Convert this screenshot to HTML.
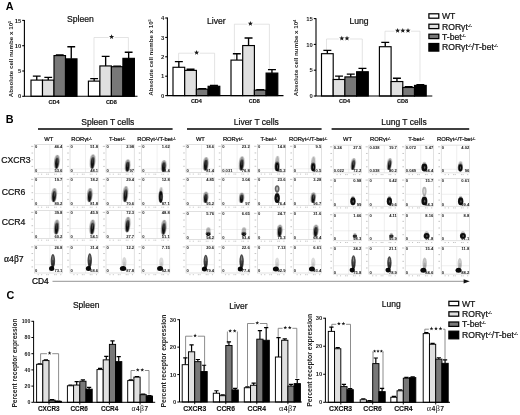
<!DOCTYPE html>
<html><head><meta charset="utf-8"><title>Figure</title>
<style>html,body{margin:0;padding:0;background:#fff;}body{width:520px;height:415px;overflow:hidden;font-family:"Liberation Sans",sans-serif;}svg{display:block;filter:blur(0.35px);}</style></head>
<body>
<svg width="520" height="415" viewBox="0 0 520 415" font-family="'Liberation Sans', sans-serif">
<defs><filter id="bl" x="-50%" y="-50%" width="200%" height="200%"><feGaussianBlur stdDeviation="0.7"/></filter></defs>
<rect width="520" height="415" fill="#fff"/>
<text x="5.80" y="10.20" font-size="10.8" text-anchor="start" font-weight="bold" fill="#000" >A</text>
<text x="5.80" y="122.60" font-size="10.8" text-anchor="start" font-weight="bold" fill="#000" >B</text>
<text x="6.40" y="299.20" font-size="10.8" text-anchor="start" font-weight="bold" fill="#000" >C</text>
<path d="M94.00 79.50V37.50H108.60M114.60 37.50H128.40V52.00" stroke="#d8d8d8" stroke-width="0.7" fill="none"/>
<polygon points="111.60,34.20 112.27,35.98 114.17,36.07 112.68,37.25 113.19,39.08 111.60,38.03 110.01,39.08 110.52,37.25 109.03,36.07 110.93,35.98" fill="#1a1a1a"/>
<path d="M36.75 80.11V76.06M32.84 76.06H40.66" stroke="#000" stroke-width="1.35" fill="none"/>
<rect x="31.00" y="80.11" width="11.50" height="16.19" fill="#ffffff" stroke="#000" stroke-width="1.15"/>
<path d="M48.25 80.11V77.32M44.34 77.32H52.16" stroke="#000" stroke-width="1.35" fill="none"/>
<rect x="42.50" y="80.11" width="11.50" height="16.19" fill="#e0e0e0" stroke="#000" stroke-width="1.15"/>
<path d="M59.75 55.57V54.81M55.84 54.81H63.66" stroke="#000" stroke-width="1.35" fill="none"/>
<rect x="54.00" y="55.57" width="11.50" height="40.73" fill="#787878" stroke="#000" stroke-width="1.15"/>
<path d="M71.25 58.86V46.71M67.34 46.71H75.16" stroke="#000" stroke-width="1.35" fill="none"/>
<rect x="65.50" y="58.86" width="11.50" height="37.44" fill="#000000" stroke="#000" stroke-width="1.15"/>
<path d="M94.15 81.12V78.59M90.24 78.59H98.06" stroke="#000" stroke-width="1.35" fill="none"/>
<rect x="88.40" y="81.12" width="11.50" height="15.18" fill="#ffffff" stroke="#000" stroke-width="1.15"/>
<path d="M105.65 65.94V56.33M101.74 56.33H109.56" stroke="#000" stroke-width="1.35" fill="none"/>
<rect x="99.90" y="65.94" width="11.50" height="30.36" fill="#e0e0e0" stroke="#000" stroke-width="1.15"/>
<path d="M117.15 66.70V66.19M113.24 66.19H121.06" stroke="#000" stroke-width="1.35" fill="none"/>
<rect x="111.40" y="66.70" width="11.50" height="29.60" fill="#787878" stroke="#000" stroke-width="1.15"/>
<path d="M128.65 58.35V52.28M124.74 52.28H132.56" stroke="#000" stroke-width="1.35" fill="none"/>
<rect x="122.90" y="58.35" width="11.50" height="37.95" fill="#000000" stroke="#000" stroke-width="1.15"/>
<path d="M24.40 20.00V96.30H137.50" stroke="#000" stroke-width="1.1" fill="none"/>
<path d="M22.20 96.30H24.40" stroke="#000" stroke-width="1.1"/>
<text x="21.20" y="98.42" font-size="5.9" text-anchor="end" font-weight="bold" fill="#222" >0</text>
<path d="M22.20 71.00H24.40" stroke="#000" stroke-width="1.1"/>
<text x="21.20" y="73.12" font-size="5.9" text-anchor="end" font-weight="bold" fill="#222" >5</text>
<path d="M22.20 45.70H24.40" stroke="#000" stroke-width="1.1"/>
<text x="21.20" y="47.82" font-size="5.9" text-anchor="end" font-weight="bold" fill="#222" >10</text>
<path d="M22.20 20.40H24.40" stroke="#000" stroke-width="1.1"/>
<text x="21.20" y="22.52" font-size="5.9" text-anchor="end" font-weight="bold" fill="#222" >15</text>
<text x="80.50" y="22.20" font-size="8.6" text-anchor="middle" font-weight="normal" fill="#111" stroke="#111" stroke-width="0.22">Spleen</text>
<text transform="translate(13.20 58.95) rotate(-90)" font-size="6.2" text-anchor="middle" font-weight="bold" fill="#222">Absolute cell numbe x 10<tspan font-size="4.0" dy="-2">5</tspan></text>
<text x="54.00" y="103.50" font-size="5.5" text-anchor="middle" font-weight="bold" fill="#111" stroke="#111" stroke-width="0.15">CD4</text>
<text x="111.40" y="103.50" font-size="5.5" text-anchor="middle" font-weight="bold" fill="#111" stroke="#111" stroke-width="0.15">CD8</text>
<path d="M178.60 66.50V53.20H193.60M199.60 53.20H214.60V85.50" stroke="#d8d8d8" stroke-width="0.7" fill="none"/>
<polygon points="196.60,49.90 197.27,51.68 199.17,51.77 197.68,52.95 198.19,54.78 196.60,53.73 195.01,54.78 195.52,52.95 194.03,51.77 195.93,51.68" fill="#1a1a1a"/>
<path d="M234.40 59.50V24.20H247.40M253.40 24.20H269.40V69.50" stroke="#d8d8d8" stroke-width="0.7" fill="none"/>
<polygon points="250.40,20.90 251.07,22.68 252.97,22.77 251.48,23.95 251.99,25.78 250.40,24.73 248.81,25.78 249.32,23.95 247.83,22.77 249.73,22.68" fill="#1a1a1a"/>
<path d="M178.85 67.28V61.65M174.87 61.65H182.83" stroke="#000" stroke-width="1.35" fill="none"/>
<rect x="173.00" y="67.28" width="11.70" height="28.32" fill="#ffffff" stroke="#000" stroke-width="1.15"/>
<path d="M190.55 70.38V69.22M186.57 69.22H194.53" stroke="#000" stroke-width="1.35" fill="none"/>
<rect x="184.70" y="70.38" width="11.70" height="25.22" fill="#e0e0e0" stroke="#000" stroke-width="1.15"/>
<path d="M202.25 89.20V88.62M198.27 88.62H206.23" stroke="#000" stroke-width="1.35" fill="none"/>
<rect x="196.40" y="89.20" width="11.70" height="6.40" fill="#787878" stroke="#000" stroke-width="1.15"/>
<path d="M213.95 86.29V85.51M209.97 85.51H217.93" stroke="#000" stroke-width="1.35" fill="none"/>
<rect x="208.10" y="86.29" width="11.70" height="9.31" fill="#000000" stroke="#000" stroke-width="1.15"/>
<path d="M236.85 60.10V53.70M232.87 53.70H240.83" stroke="#000" stroke-width="1.35" fill="none"/>
<rect x="231.00" y="60.10" width="11.70" height="35.50" fill="#ffffff" stroke="#000" stroke-width="1.15"/>
<path d="M248.55 45.55V37.98M244.57 37.98H252.53" stroke="#000" stroke-width="1.35" fill="none"/>
<rect x="242.70" y="45.55" width="11.70" height="50.05" fill="#e0e0e0" stroke="#000" stroke-width="1.15"/>
<path d="M260.25 90.17V89.59M256.27 89.59H264.23" stroke="#000" stroke-width="1.35" fill="none"/>
<rect x="254.40" y="90.17" width="11.70" height="5.43" fill="#787878" stroke="#000" stroke-width="1.15"/>
<path d="M271.95 73.10V69.60M267.97 69.60H275.93" stroke="#000" stroke-width="1.35" fill="none"/>
<rect x="266.10" y="73.10" width="11.70" height="22.50" fill="#000000" stroke="#000" stroke-width="1.15"/>
<path d="M167.40 17.60V95.60H283.50" stroke="#000" stroke-width="1.1" fill="none"/>
<path d="M165.20 95.60H167.40" stroke="#000" stroke-width="1.1"/>
<text x="164.20" y="97.72" font-size="5.9" text-anchor="end" font-weight="bold" fill="#222" >0</text>
<path d="M165.20 76.20H167.40" stroke="#000" stroke-width="1.1"/>
<text x="164.20" y="78.32" font-size="5.9" text-anchor="end" font-weight="bold" fill="#222" >1</text>
<path d="M165.20 56.80H167.40" stroke="#000" stroke-width="1.1"/>
<text x="164.20" y="58.92" font-size="5.9" text-anchor="end" font-weight="bold" fill="#222" >2</text>
<path d="M165.20 37.40H167.40" stroke="#000" stroke-width="1.1"/>
<text x="164.20" y="39.52" font-size="5.9" text-anchor="end" font-weight="bold" fill="#222" >3</text>
<path d="M165.20 18.00H167.40" stroke="#000" stroke-width="1.1"/>
<text x="164.20" y="20.12" font-size="5.9" text-anchor="end" font-weight="bold" fill="#222" >4</text>
<text x="216.40" y="24.00" font-size="8.6" text-anchor="middle" font-weight="normal" fill="#111" stroke="#111" stroke-width="0.22">Liver</text>
<text transform="translate(152.60 57.40) rotate(-90)" font-size="6.2" text-anchor="middle" font-weight="bold" fill="#222">Absolute cell numbe x 10<tspan font-size="4.0" dy="-2">5</tspan></text>
<text x="196.40" y="102.80" font-size="5.5" text-anchor="middle" font-weight="bold" fill="#111" stroke="#111" stroke-width="0.15">CD4</text>
<text x="254.30" y="102.80" font-size="5.5" text-anchor="middle" font-weight="bold" fill="#111" stroke="#111" stroke-width="0.15">CD8</text>
<path d="M326.50 51.50V39.00H338.80M350.00 39.00H362.30V68.50" stroke="#d8d8d8" stroke-width="0.7" fill="none"/>
<polygon points="341.80,35.70 342.47,37.48 344.37,37.57 342.88,38.75 343.39,40.58 341.80,39.53 340.21,40.58 340.72,38.75 339.23,37.57 341.13,37.48" fill="#1a1a1a"/>
<polygon points="347.00,35.70 347.67,37.48 349.57,37.57 348.08,38.75 348.59,40.58 347.00,39.53 345.41,40.58 345.92,38.75 344.43,37.57 346.33,37.48" fill="#1a1a1a"/>
<path d="M385.00 45.00V31.20H394.60M411.00 31.20H420.00V81.50" stroke="#d8d8d8" stroke-width="0.7" fill="none"/>
<polygon points="397.60,27.90 398.27,29.68 400.17,29.77 398.68,30.95 399.19,32.78 397.60,31.73 396.01,32.78 396.52,30.95 395.03,29.77 396.93,29.68" fill="#1a1a1a"/>
<polygon points="402.80,27.90 403.47,29.68 405.37,29.77 403.88,30.95 404.39,32.78 402.80,31.73 401.21,32.78 401.72,30.95 400.23,29.77 402.13,29.68" fill="#1a1a1a"/>
<polygon points="408.00,27.90 408.67,29.68 410.57,29.77 409.08,30.95 409.59,32.78 408.00,31.73 406.41,32.78 406.92,30.95 405.43,29.77 407.33,29.68" fill="#1a1a1a"/>
<path d="M327.35 53.69V50.33M323.37 50.33H331.33" stroke="#000" stroke-width="1.35" fill="none"/>
<rect x="321.50" y="53.69" width="11.70" height="42.31" fill="#ffffff" stroke="#000" stroke-width="1.15"/>
<path d="M339.05 79.49V76.13M335.07 76.13H343.03" stroke="#000" stroke-width="1.35" fill="none"/>
<rect x="333.20" y="79.49" width="11.70" height="16.51" fill="#e0e0e0" stroke="#000" stroke-width="1.15"/>
<path d="M350.75 76.91V74.07M346.77 74.07H354.73" stroke="#000" stroke-width="1.35" fill="none"/>
<rect x="344.90" y="76.91" width="11.70" height="19.09" fill="#787878" stroke="#000" stroke-width="1.15"/>
<path d="M362.45 71.75V68.39M358.47 68.39H366.43" stroke="#000" stroke-width="1.35" fill="none"/>
<rect x="356.60" y="71.75" width="11.70" height="24.25" fill="#000000" stroke="#000" stroke-width="1.15"/>
<path d="M385.25 46.72V42.34M381.27 42.34H389.23" stroke="#000" stroke-width="1.35" fill="none"/>
<rect x="379.40" y="46.72" width="11.70" height="49.28" fill="#ffffff" stroke="#000" stroke-width="1.15"/>
<path d="M396.95 81.55V78.20M392.97 78.20H400.93" stroke="#000" stroke-width="1.35" fill="none"/>
<rect x="391.10" y="81.55" width="11.70" height="14.45" fill="#e0e0e0" stroke="#000" stroke-width="1.15"/>
<path d="M408.65 87.49V86.71M404.67 86.71H412.63" stroke="#000" stroke-width="1.35" fill="none"/>
<rect x="402.80" y="87.49" width="11.70" height="8.51" fill="#787878" stroke="#000" stroke-width="1.15"/>
<path d="M420.35 85.42V84.65M416.37 84.65H424.33" stroke="#000" stroke-width="1.35" fill="none"/>
<rect x="414.50" y="85.42" width="11.70" height="10.58" fill="#000000" stroke="#000" stroke-width="1.15"/>
<path d="M316.00 18.20V96.00H432.30" stroke="#000" stroke-width="1.1" fill="none"/>
<path d="M313.80 96.00H316.00" stroke="#000" stroke-width="1.1"/>
<text x="312.80" y="98.12" font-size="5.9" text-anchor="end" font-weight="bold" fill="#222" >0</text>
<path d="M313.80 70.20H316.00" stroke="#000" stroke-width="1.1"/>
<text x="312.80" y="72.32" font-size="5.9" text-anchor="end" font-weight="bold" fill="#222" >5</text>
<path d="M313.80 44.40H316.00" stroke="#000" stroke-width="1.1"/>
<text x="312.80" y="46.52" font-size="5.9" text-anchor="end" font-weight="bold" fill="#222" >10</text>
<path d="M313.80 18.60H316.00" stroke="#000" stroke-width="1.1"/>
<text x="312.80" y="20.72" font-size="5.9" text-anchor="end" font-weight="bold" fill="#222" >15</text>
<text x="359.00" y="24.00" font-size="8.6" text-anchor="middle" font-weight="normal" fill="#111" stroke="#111" stroke-width="0.22">Lung</text>
<text transform="translate(297.60 57.90) rotate(-90)" font-size="6.2" text-anchor="middle" font-weight="bold" fill="#222">Absolute cell numbe x 10<tspan font-size="4.0" dy="-2">4</tspan></text>
<text x="344.50" y="103.20" font-size="5.5" text-anchor="middle" font-weight="bold" fill="#111" stroke="#111" stroke-width="0.15">CD4</text>
<text x="402.50" y="103.20" font-size="5.5" text-anchor="middle" font-weight="bold" fill="#111" stroke="#111" stroke-width="0.15">CD8</text>
<rect x="428.90" y="13.80" width="9.9" height="4.4" fill="#ffffff" stroke="#000" stroke-width="1.25"/>
<text x="442.00" y="19.10" font-size="8.6" text-anchor="start" font-weight="normal" fill="#111" stroke="#111" stroke-width="0.22">WT</text>
<rect x="428.90" y="24.20" width="9.9" height="4.4" fill="#e0e0e0" stroke="#000" stroke-width="1.25"/>
<text x="442.00" y="29.50" font-size="8.6" text-anchor="start" font-weight="normal" fill="#111" stroke="#111" stroke-width="0.22">ROR&#947;t<tspan font-size="4.3" dy="-3.0">-/-</tspan><tspan dy="3.0" font-size="4.3">&#8203;</tspan></text>
<rect x="428.90" y="34.20" width="9.9" height="4.4" fill="#787878" stroke="#000" stroke-width="1.25"/>
<text x="442.00" y="39.50" font-size="8.6" text-anchor="start" font-weight="normal" fill="#111" stroke="#111" stroke-width="0.22">T-bet<tspan font-size="4.3" dy="-3.0">-/-</tspan><tspan dy="3.0" font-size="4.3">&#8203;</tspan></text>
<rect x="428.90" y="43.50" width="9.9" height="7.6" fill="#000000" stroke="#000" stroke-width="1.25"/>
<text x="442.00" y="50.40" font-size="8.6" text-anchor="start" font-weight="normal" fill="#111" stroke="#111" stroke-width="0.22">ROR&#947;t<tspan font-size="4.3" dy="-3.0">-/-</tspan><tspan dy="3.0" font-size="4.3">&#8203;</tspan>/T-bet<tspan font-size="4.3" dy="-3.0">-/-</tspan><tspan dy="3.0" font-size="4.3">&#8203;</tspan></text>
<path d="M38 129.0H172.6" stroke="#000" stroke-width="1.3"/>
<path d="M187.0 129.0H321.6" stroke="#000" stroke-width="1.3"/>
<path d="M331.6 129.0H469.2" stroke="#000" stroke-width="1.3"/>
<text x="107.80" y="125.20" font-size="8.5" text-anchor="middle" font-weight="normal" fill="#111" stroke="#111" stroke-width="0.22">Spleen T cells</text>
<text x="256.30" y="125.20" font-size="8.5" text-anchor="middle" font-weight="normal" fill="#111" stroke="#111" stroke-width="0.22">Liver T cells</text>
<text x="404.00" y="125.40" font-size="8.5" text-anchor="middle" font-weight="normal" fill="#111" stroke="#111" stroke-width="0.22">Lung T cells</text>
<text x="48.70" y="141.20" font-size="5.8" text-anchor="middle" font-weight="normal" fill="#111" stroke="#111" stroke-width="0.22">WT</text>
<text x="81.50" y="141.20" font-size="5.8" text-anchor="middle" font-weight="normal" fill="#111" stroke="#111" stroke-width="0.22">ROR&#947;t<tspan font-size="3.2" dy="-1.7">-/-</tspan><tspan dy="1.7" font-size="3.2">&#8203;</tspan></text>
<text x="117.10" y="141.20" font-size="5.8" text-anchor="middle" font-weight="normal" fill="#111" stroke="#111" stroke-width="0.22">T-bet<tspan font-size="3.2" dy="-1.7">-/-</tspan><tspan dy="1.7" font-size="3.2">&#8203;</tspan></text>
<text x="156.50" y="141.20" font-size="5.8" text-anchor="middle" font-weight="normal" fill="#111" stroke="#111" stroke-width="0.22">ROR&#947;t<tspan font-size="3.2" dy="-1.7">-/-</tspan><tspan dy="1.7" font-size="3.2">&#8203;</tspan>/T-bet<tspan font-size="3.2" dy="-1.7">-/-</tspan><tspan dy="1.7" font-size="3.2">&#8203;</tspan></text>
<text x="200.40" y="141.20" font-size="5.8" text-anchor="middle" font-weight="normal" fill="#111" stroke="#111" stroke-width="0.22">WT</text>
<text x="233.10" y="141.20" font-size="5.8" text-anchor="middle" font-weight="normal" fill="#111" stroke="#111" stroke-width="0.22">ROR&#947;t<tspan font-size="3.2" dy="-1.7">-/-</tspan><tspan dy="1.7" font-size="3.2">&#8203;</tspan></text>
<text x="268.50" y="141.20" font-size="5.8" text-anchor="middle" font-weight="normal" fill="#111" stroke="#111" stroke-width="0.22">T-bet<tspan font-size="3.2" dy="-1.7">-/-</tspan><tspan dy="1.7" font-size="3.2">&#8203;</tspan></text>
<text x="308.10" y="141.20" font-size="5.8" text-anchor="middle" font-weight="normal" fill="#111" stroke="#111" stroke-width="0.22">ROR&#947;t<tspan font-size="3.2" dy="-1.7">-/-</tspan><tspan dy="1.7" font-size="3.2">&#8203;</tspan>/T-bet<tspan font-size="3.2" dy="-1.7">-/-</tspan><tspan dy="1.7" font-size="3.2">&#8203;</tspan></text>
<text x="347.60" y="141.20" font-size="5.8" text-anchor="middle" font-weight="normal" fill="#111" stroke="#111" stroke-width="0.22">WT</text>
<text x="380.30" y="141.20" font-size="5.8" text-anchor="middle" font-weight="normal" fill="#111" stroke="#111" stroke-width="0.22">ROR&#947;t<tspan font-size="3.2" dy="-1.7">-/-</tspan><tspan dy="1.7" font-size="3.2">&#8203;</tspan></text>
<text x="416.30" y="141.20" font-size="5.8" text-anchor="middle" font-weight="normal" fill="#111" stroke="#111" stroke-width="0.22">T-bet<tspan font-size="3.2" dy="-1.7">-/-</tspan><tspan dy="1.7" font-size="3.2">&#8203;</tspan></text>
<text x="456.10" y="141.20" font-size="5.8" text-anchor="middle" font-weight="normal" fill="#111" stroke="#111" stroke-width="0.22">ROR&#947;t<tspan font-size="3.2" dy="-1.7">-/-</tspan><tspan dy="1.7" font-size="3.2">&#8203;</tspan>/T-bet<tspan font-size="3.2" dy="-1.7">-/-</tspan><tspan dy="1.7" font-size="3.2">&#8203;</tspan></text>
<text x="1.20" y="162.70" font-size="8.7" text-anchor="start" font-weight="normal" fill="#111" stroke="#111" stroke-width="0.22">CXCR3</text>
<text x="1.80" y="194.70" font-size="8.7" text-anchor="start" font-weight="normal" fill="#111" stroke="#111" stroke-width="0.22">CCR6</text>
<text x="1.80" y="224.50" font-size="8.7" text-anchor="start" font-weight="normal" fill="#111" stroke="#111" stroke-width="0.22">CCR4</text>
<text x="4.00" y="262.00" font-size="8.7" text-anchor="start" font-weight="normal" fill="#111" stroke="#111" stroke-width="0.22"><tspan font-family="'Liberation Serif', serif" font-size="9.6">&#945;</tspan>4<tspan font-family="'Liberation Serif', serif" font-size="9.6">&#946;</tspan>7</text>
<text x="32.00" y="284.40" font-size="8.4" text-anchor="start" font-weight="normal" fill="#000" stroke="#000" stroke-width="0.22">CD4</text>
<path d="M52.5 281.3H465" stroke="#666" stroke-width="0.7"/>
<path d="M463.6 279.2L469.8 281.3L463.6 283.4Z" fill="#111"/>
<rect x="34.30" y="144.70" width="28.20" height="27.80" fill="#fff" stroke="#c8c8c8" stroke-width="0.55"/>
<path d="M49.81 144.70V172.50M34.30 168.89H62.50" stroke="#dedede" stroke-width="0.5"/>
<path d="M31.10 146.40h2.2M31.50 153.04h1.6M31.50 159.71h1.6M31.50 166.38h1.6M37.68 174.20h1.1M41.07 174.20h1.1M46.14 174.20h1.1M47.84 174.20h1.1M54.04 174.20h1.1M55.73 174.20h1.1M60.24 174.20h1.1" stroke="#8a8a8a" stroke-width="0.5"/>
<ellipse cx="56.86" cy="161.80" rx="2.80" ry="7.09" fill="#000" fill-opacity="0.4" filter="url(#bl)" transform="rotate(5 56.86 161.80)"/>
<ellipse cx="56.86" cy="163.21" rx="1.74" ry="5.67" fill="#000" fill-opacity="0.9" filter="url(#bl)" transform="rotate(5 56.86 163.21)"/>
<ellipse cx="57.20" cy="160.73" rx="0.32" ry="3.19" fill="#fff" fill-opacity="0.4" filter="url(#bl)" transform="rotate(5 57.20 160.73)"/>
<text x="34.90" y="148.20" font-size="4.1" text-anchor="start" font-weight="bold" fill="#222" >0</text>
<text x="62.40" y="148.20" font-size="4.1" text-anchor="end" font-weight="bold" fill="#111" >46.4</text>
<text x="34.90" y="171.90" font-size="4.1" text-anchor="start" font-weight="bold" fill="#222" >0</text>
<text x="62.40" y="171.90" font-size="4.1" text-anchor="end" font-weight="bold" fill="#111" >53.6</text>
<rect x="70.00" y="144.70" width="28.20" height="27.80" fill="#fff" stroke="#c8c8c8" stroke-width="0.55"/>
<path d="M85.51 144.70V172.50M70.00 168.89H98.20" stroke="#dedede" stroke-width="0.5"/>
<path d="M66.80 146.40h2.2M67.20 153.04h1.6M67.20 159.71h1.6M67.20 166.38h1.6M73.38 174.20h1.1M76.77 174.20h1.1M81.84 174.20h1.1M83.54 174.20h1.1M89.74 174.20h1.1M91.43 174.20h1.1M95.94 174.20h1.1" stroke="#8a8a8a" stroke-width="0.5"/>
<ellipse cx="92.56" cy="161.52" rx="2.80" ry="7.37" fill="#000" fill-opacity="0.4" filter="url(#bl)" transform="rotate(5 92.56 161.52)"/>
<ellipse cx="92.56" cy="162.99" rx="1.74" ry="5.89" fill="#000" fill-opacity="0.9" filter="url(#bl)" transform="rotate(5 92.56 162.99)"/>
<ellipse cx="92.90" cy="160.41" rx="0.32" ry="3.32" fill="#fff" fill-opacity="0.4" filter="url(#bl)" transform="rotate(5 92.90 160.41)"/>
<text x="70.60" y="148.20" font-size="4.1" text-anchor="start" font-weight="bold" fill="#222" >0</text>
<text x="98.10" y="148.20" font-size="4.1" text-anchor="end" font-weight="bold" fill="#111" >51.8</text>
<text x="70.60" y="171.90" font-size="4.1" text-anchor="start" font-weight="bold" fill="#222" >0</text>
<text x="98.10" y="171.90" font-size="4.1" text-anchor="end" font-weight="bold" fill="#111" >48.1</text>
<rect x="106.00" y="144.70" width="28.20" height="27.80" fill="#fff" stroke="#c8c8c8" stroke-width="0.55"/>
<path d="M121.51 144.70V172.50M106.00 168.89H134.20" stroke="#dedede" stroke-width="0.5"/>
<path d="M102.80 146.40h2.2M103.20 153.04h1.6M103.20 159.71h1.6M103.20 166.38h1.6M109.38 174.20h1.1M112.77 174.20h1.1M117.84 174.20h1.1M119.54 174.20h1.1M125.74 174.20h1.1M127.43 174.20h1.1M131.94 174.20h1.1" stroke="#8a8a8a" stroke-width="0.5"/>
<ellipse cx="127.57" cy="165.41" rx="2.80" ry="6.26" fill="#000" fill-opacity="0.4" filter="url(#bl)" transform="rotate(5 127.57 165.41)"/>
<ellipse cx="127.57" cy="166.66" rx="1.74" ry="5.00" fill="#000" fill-opacity="0.9" filter="url(#bl)" transform="rotate(5 127.57 166.66)"/>
<ellipse cx="127.91" cy="164.47" rx="0.32" ry="2.81" fill="#fff" fill-opacity="0.4" filter="url(#bl)" transform="rotate(5 127.91 164.47)"/>
<text x="106.60" y="148.20" font-size="4.1" text-anchor="start" font-weight="bold" fill="#222" >0</text>
<text x="134.10" y="148.20" font-size="4.1" text-anchor="end" font-weight="bold" fill="#111" >2.98</text>
<text x="106.60" y="171.90" font-size="4.1" text-anchor="start" font-weight="bold" fill="#222" >0</text>
<text x="134.10" y="171.90" font-size="4.1" text-anchor="end" font-weight="bold" fill="#111" >97</text>
<rect x="141.60" y="144.70" width="28.20" height="27.80" fill="#fff" stroke="#c8c8c8" stroke-width="0.55"/>
<path d="M157.11 144.70V172.50M141.60 168.89H169.80" stroke="#dedede" stroke-width="0.5"/>
<path d="M138.40 146.40h2.2M138.80 153.04h1.6M138.80 159.71h1.6M138.80 166.38h1.6M144.98 174.20h1.1M148.37 174.20h1.1M153.44 174.20h1.1M155.14 174.20h1.1M161.34 174.20h1.1M163.03 174.20h1.1M167.54 174.20h1.1" stroke="#8a8a8a" stroke-width="0.5"/>
<ellipse cx="163.74" cy="165.83" rx="2.80" ry="5.84" fill="#000" fill-opacity="0.4" filter="url(#bl)" transform="rotate(5 163.74 165.83)"/>
<ellipse cx="163.74" cy="167.00" rx="1.74" ry="4.67" fill="#000" fill-opacity="0.9" filter="url(#bl)" transform="rotate(5 163.74 167.00)"/>
<ellipse cx="164.08" cy="164.95" rx="0.32" ry="2.63" fill="#fff" fill-opacity="0.4" filter="url(#bl)" transform="rotate(5 164.08 164.95)"/>
<text x="142.20" y="148.20" font-size="4.1" text-anchor="start" font-weight="bold" fill="#222" >0</text>
<text x="169.70" y="148.20" font-size="4.1" text-anchor="end" font-weight="bold" fill="#111" >1.62</text>
<text x="142.20" y="171.90" font-size="4.1" text-anchor="start" font-weight="bold" fill="#222" >0</text>
<text x="169.70" y="171.90" font-size="4.1" text-anchor="end" font-weight="bold" fill="#111" >98.4</text>
<rect x="34.30" y="177.70" width="28.20" height="27.80" fill="#fff" stroke="#c8c8c8" stroke-width="0.55"/>
<path d="M49.81 177.70V205.50M34.30 193.55H62.50" stroke="#dedede" stroke-width="0.5"/>
<path d="M31.10 179.40h2.2M31.50 186.04h1.6M31.50 192.71h1.6M31.50 199.38h1.6M37.68 207.20h1.1M41.07 207.20h1.1M46.14 207.20h1.1M47.84 207.20h1.1M54.04 207.20h1.1M55.73 207.20h1.1M60.24 207.20h1.1" stroke="#8a8a8a" stroke-width="0.5"/>
<ellipse cx="54.04" cy="195.07" rx="2.80" ry="7.09" fill="#000" fill-opacity="0.4" filter="url(#bl)" transform="rotate(5 54.04 195.07)"/>
<ellipse cx="54.04" cy="196.49" rx="1.74" ry="5.67" fill="#000" fill-opacity="0.9" filter="url(#bl)" transform="rotate(5 54.04 196.49)"/>
<ellipse cx="54.38" cy="194.01" rx="0.32" ry="3.19" fill="#fff" fill-opacity="0.4" filter="url(#bl)" transform="rotate(5 54.38 194.01)"/>
<text x="34.90" y="181.20" font-size="4.1" text-anchor="start" font-weight="bold" fill="#222" >0</text>
<text x="62.40" y="181.20" font-size="4.1" text-anchor="end" font-weight="bold" fill="#111" >19.7</text>
<text x="34.90" y="204.90" font-size="4.1" text-anchor="start" font-weight="bold" fill="#222" >0</text>
<text x="62.40" y="204.90" font-size="4.1" text-anchor="end" font-weight="bold" fill="#111" >80.2</text>
<rect x="70.00" y="177.70" width="28.20" height="27.80" fill="#fff" stroke="#c8c8c8" stroke-width="0.55"/>
<path d="M85.51 177.70V205.50M70.00 193.55H98.20" stroke="#dedede" stroke-width="0.5"/>
<path d="M66.80 179.40h2.2M67.20 186.04h1.6M67.20 192.71h1.6M67.20 199.38h1.6M73.38 207.20h1.1M76.77 207.20h1.1M81.84 207.20h1.1M83.54 207.20h1.1M89.74 207.20h1.1M91.43 207.20h1.1M95.94 207.20h1.1" stroke="#8a8a8a" stroke-width="0.5"/>
<ellipse cx="89.74" cy="195.07" rx="2.80" ry="7.09" fill="#000" fill-opacity="0.4" filter="url(#bl)" transform="rotate(5 89.74 195.07)"/>
<ellipse cx="89.74" cy="196.49" rx="1.74" ry="5.67" fill="#000" fill-opacity="0.9" filter="url(#bl)" transform="rotate(5 89.74 196.49)"/>
<ellipse cx="90.08" cy="194.01" rx="0.32" ry="3.19" fill="#fff" fill-opacity="0.4" filter="url(#bl)" transform="rotate(5 90.08 194.01)"/>
<text x="70.60" y="181.20" font-size="4.1" text-anchor="start" font-weight="bold" fill="#222" >0</text>
<text x="98.10" y="181.20" font-size="4.1" text-anchor="end" font-weight="bold" fill="#111" >18.2</text>
<text x="70.60" y="204.90" font-size="4.1" text-anchor="start" font-weight="bold" fill="#222" >0</text>
<text x="98.10" y="204.90" font-size="4.1" text-anchor="end" font-weight="bold" fill="#111" >81.8</text>
<rect x="106.00" y="177.70" width="28.20" height="27.80" fill="#fff" stroke="#c8c8c8" stroke-width="0.55"/>
<path d="M121.51 177.70V205.50M106.00 193.55H134.20" stroke="#dedede" stroke-width="0.5"/>
<path d="M102.80 179.40h2.2M103.20 186.04h1.6M103.20 192.71h1.6M103.20 199.38h1.6M109.38 207.20h1.1M112.77 207.20h1.1M117.84 207.20h1.1M119.54 207.20h1.1M125.74 207.20h1.1M127.43 207.20h1.1M131.94 207.20h1.1" stroke="#8a8a8a" stroke-width="0.5"/>
<ellipse cx="125.46" cy="194.10" rx="2.80" ry="8.06" fill="#000" fill-opacity="0.4" filter="url(#bl)" transform="rotate(5 125.46 194.10)"/>
<ellipse cx="125.46" cy="195.71" rx="1.74" ry="6.45" fill="#000" fill-opacity="0.9" filter="url(#bl)" transform="rotate(5 125.46 195.71)"/>
<ellipse cx="125.80" cy="192.89" rx="0.32" ry="3.63" fill="#fff" fill-opacity="0.4" filter="url(#bl)" transform="rotate(5 125.80 192.89)"/>
<text x="106.60" y="181.20" font-size="4.1" text-anchor="start" font-weight="bold" fill="#222" >0</text>
<text x="134.10" y="181.20" font-size="4.1" text-anchor="end" font-weight="bold" fill="#111" >29.4</text>
<text x="106.60" y="204.90" font-size="4.1" text-anchor="start" font-weight="bold" fill="#222" >0</text>
<text x="134.10" y="204.90" font-size="4.1" text-anchor="end" font-weight="bold" fill="#111" >70.6</text>
<rect x="141.60" y="177.70" width="28.20" height="27.80" fill="#fff" stroke="#c8c8c8" stroke-width="0.55"/>
<path d="M157.11 177.70V205.50M141.60 193.55H169.80" stroke="#dedede" stroke-width="0.5"/>
<path d="M138.40 179.40h2.2M138.80 186.04h1.6M138.80 192.71h1.6M138.80 199.38h1.6M144.98 207.20h1.1M148.37 207.20h1.1M153.44 207.20h1.1M155.14 207.20h1.1M161.34 207.20h1.1M163.03 207.20h1.1M167.54 207.20h1.1" stroke="#8a8a8a" stroke-width="0.5"/>
<ellipse cx="160.78" cy="194.80" rx="1.95" ry="7.92" fill="#000" fill-opacity="0.3" filter="url(#bl)" transform="rotate(4 160.78 194.80)"/>
<ellipse cx="160.78" cy="196.60" rx="2.30" ry="6.12" fill="#000" fill-opacity="0.5" filter="url(#bl)"/>
<ellipse cx="160.78" cy="197.16" rx="1.66" ry="5.56" fill="#000" fill-opacity="0.9" filter="url(#bl)"/>
<ellipse cx="161.06" cy="196.88" rx="0.35" ry="2.50" fill="#fff" fill-opacity="0.4" filter="url(#bl)"/>
<text x="142.20" y="181.20" font-size="4.1" text-anchor="start" font-weight="bold" fill="#222" >0</text>
<text x="169.70" y="181.20" font-size="4.1" text-anchor="end" font-weight="bold" fill="#111" >12.8</text>
<text x="142.20" y="204.90" font-size="4.1" text-anchor="start" font-weight="bold" fill="#222" >0</text>
<text x="169.70" y="204.90" font-size="4.1" text-anchor="end" font-weight="bold" fill="#111" >87.1</text>
<rect x="34.30" y="210.70" width="28.20" height="27.80" fill="#fff" stroke="#c8c8c8" stroke-width="0.55"/>
<path d="M49.81 210.70V238.50M34.30 228.49H62.50" stroke="#dedede" stroke-width="0.5"/>
<path d="M31.10 212.40h2.2M31.50 219.04h1.6M31.50 225.71h1.6M31.50 232.38h1.6M37.68 240.20h1.1M41.07 240.20h1.1M46.14 240.20h1.1M47.84 240.20h1.1M54.04 240.20h1.1M55.73 240.20h1.1M60.24 240.20h1.1" stroke="#8a8a8a" stroke-width="0.5"/>
<ellipse cx="56.58" cy="227.10" rx="2.80" ry="7.51" fill="#000" fill-opacity="0.4" filter="url(#bl)" transform="rotate(5 56.58 227.10)"/>
<ellipse cx="56.58" cy="228.60" rx="1.74" ry="6.00" fill="#000" fill-opacity="0.9" filter="url(#bl)" transform="rotate(5 56.58 228.60)"/>
<ellipse cx="56.92" cy="225.98" rx="0.32" ry="3.38" fill="#fff" fill-opacity="0.4" filter="url(#bl)" transform="rotate(5 56.92 225.98)"/>
<text x="34.90" y="214.20" font-size="4.1" text-anchor="start" font-weight="bold" fill="#222" >0</text>
<text x="62.40" y="214.20" font-size="4.1" text-anchor="end" font-weight="bold" fill="#111" >39.8</text>
<text x="34.90" y="237.90" font-size="4.1" text-anchor="start" font-weight="bold" fill="#222" >0</text>
<text x="62.40" y="237.90" font-size="4.1" text-anchor="end" font-weight="bold" fill="#111" >60.2</text>
<rect x="70.00" y="210.70" width="28.20" height="27.80" fill="#fff" stroke="#c8c8c8" stroke-width="0.55"/>
<path d="M85.51 210.70V238.50M70.00 228.49H98.20" stroke="#dedede" stroke-width="0.5"/>
<path d="M66.80 212.40h2.2M67.20 219.04h1.6M67.20 225.71h1.6M67.20 232.38h1.6M73.38 240.20h1.1M76.77 240.20h1.1M81.84 240.20h1.1M83.54 240.20h1.1M89.74 240.20h1.1M91.43 240.20h1.1M95.94 240.20h1.1" stroke="#8a8a8a" stroke-width="0.5"/>
<ellipse cx="92.28" cy="227.10" rx="2.80" ry="7.51" fill="#000" fill-opacity="0.4" filter="url(#bl)" transform="rotate(5 92.28 227.10)"/>
<ellipse cx="92.28" cy="228.60" rx="1.74" ry="6.00" fill="#000" fill-opacity="0.9" filter="url(#bl)" transform="rotate(5 92.28 228.60)"/>
<ellipse cx="92.62" cy="225.98" rx="0.32" ry="3.38" fill="#fff" fill-opacity="0.4" filter="url(#bl)" transform="rotate(5 92.62 225.98)"/>
<text x="70.60" y="214.20" font-size="4.1" text-anchor="start" font-weight="bold" fill="#222" >0</text>
<text x="98.10" y="214.20" font-size="4.1" text-anchor="end" font-weight="bold" fill="#111" >45.9</text>
<text x="70.60" y="237.90" font-size="4.1" text-anchor="start" font-weight="bold" fill="#222" >0</text>
<text x="98.10" y="237.90" font-size="4.1" text-anchor="end" font-weight="bold" fill="#111" >54.1</text>
<rect x="106.00" y="210.70" width="28.20" height="27.80" fill="#fff" stroke="#c8c8c8" stroke-width="0.55"/>
<path d="M121.51 210.70V238.50M106.00 228.49H134.20" stroke="#dedede" stroke-width="0.5"/>
<path d="M102.80 212.40h2.2M103.20 219.04h1.6M103.20 225.71h1.6M103.20 232.38h1.6M109.38 240.20h1.1M112.77 240.20h1.1M117.84 240.20h1.1M119.54 240.20h1.1M125.74 240.20h1.1M127.43 240.20h1.1M131.94 240.20h1.1" stroke="#8a8a8a" stroke-width="0.5"/>
<ellipse cx="127.57" cy="224.60" rx="2.80" ry="7.78" fill="#000" fill-opacity="0.4" filter="url(#bl)" transform="rotate(5 127.57 224.60)"/>
<ellipse cx="127.57" cy="226.16" rx="1.74" ry="6.23" fill="#000" fill-opacity="0.9" filter="url(#bl)" transform="rotate(5 127.57 226.16)"/>
<ellipse cx="127.91" cy="223.43" rx="0.32" ry="3.50" fill="#fff" fill-opacity="0.4" filter="url(#bl)" transform="rotate(5 127.91 223.43)"/>
<text x="106.60" y="214.20" font-size="4.1" text-anchor="start" font-weight="bold" fill="#222" >0</text>
<text x="134.10" y="214.20" font-size="4.1" text-anchor="end" font-weight="bold" fill="#111" >72.3</text>
<text x="106.60" y="237.90" font-size="4.1" text-anchor="start" font-weight="bold" fill="#222" >0</text>
<text x="134.10" y="237.90" font-size="4.1" text-anchor="end" font-weight="bold" fill="#111" >27.7</text>
<rect x="141.60" y="210.70" width="28.20" height="27.80" fill="#fff" stroke="#c8c8c8" stroke-width="0.55"/>
<path d="M157.11 210.70V238.50M141.60 228.49H169.80" stroke="#dedede" stroke-width="0.5"/>
<path d="M138.40 212.40h2.2M138.80 219.04h1.6M138.80 225.71h1.6M138.80 232.38h1.6M144.98 240.20h1.1M148.37 240.20h1.1M153.44 240.20h1.1M155.14 240.20h1.1M161.34 240.20h1.1M163.03 240.20h1.1M167.54 240.20h1.1" stroke="#8a8a8a" stroke-width="0.5"/>
<ellipse cx="163.74" cy="227.38" rx="2.80" ry="7.51" fill="#000" fill-opacity="0.4" filter="url(#bl)" transform="rotate(5 163.74 227.38)"/>
<ellipse cx="163.74" cy="228.88" rx="1.74" ry="6.00" fill="#000" fill-opacity="0.9" filter="url(#bl)" transform="rotate(5 163.74 228.88)"/>
<ellipse cx="164.08" cy="226.25" rx="0.32" ry="3.38" fill="#fff" fill-opacity="0.4" filter="url(#bl)" transform="rotate(5 164.08 226.25)"/>
<text x="142.20" y="214.20" font-size="4.1" text-anchor="start" font-weight="bold" fill="#222" >0</text>
<text x="169.70" y="214.20" font-size="4.1" text-anchor="end" font-weight="bold" fill="#111" >48.8</text>
<text x="142.20" y="237.90" font-size="4.1" text-anchor="start" font-weight="bold" fill="#222" >0</text>
<text x="169.70" y="237.90" font-size="4.1" text-anchor="end" font-weight="bold" fill="#111" >51.1</text>
<rect x="34.30" y="245.20" width="28.20" height="27.80" fill="#fff" stroke="#c8c8c8" stroke-width="0.55"/>
<path d="M49.81 245.20V273.00M34.30 264.66H62.50" stroke="#dedede" stroke-width="0.5"/>
<path d="M31.10 246.90h2.2M31.50 253.54h1.6M31.50 260.21h1.6M31.50 266.88h1.6M37.68 274.70h1.1M41.07 274.70h1.1M46.14 274.70h1.1M47.84 274.70h1.1M54.04 274.70h1.1M55.73 274.70h1.1M60.24 274.70h1.1" stroke="#8a8a8a" stroke-width="0.5"/>
<ellipse cx="52.91" cy="260.91" rx="2.20" ry="6.81" fill="#000" fill-opacity="0.72" filter="url(#bl)"/>
<ellipse cx="52.91" cy="259.66" rx="0.50" ry="3.89" fill="#fff" fill-opacity="0.36" filter="url(#bl)"/>
<ellipse cx="52.91" cy="263.65" rx="1.30" ry="3.79" fill="#000" fill-opacity="0.396" filter="url(#bl)"/>
<ellipse cx="51.64" cy="268.55" rx="2.60" ry="2.50" fill="#000" fill-opacity="0.97" filter="url(#bl)"/>
<text x="34.90" y="248.70" font-size="4.1" text-anchor="start" font-weight="bold" fill="#222" >0</text>
<text x="62.40" y="248.70" font-size="4.1" text-anchor="end" font-weight="bold" fill="#111" >26.8</text>
<text x="34.90" y="272.40" font-size="4.1" text-anchor="start" font-weight="bold" fill="#222" >0</text>
<text x="62.40" y="272.40" font-size="4.1" text-anchor="end" font-weight="bold" fill="#111" >73.1</text>
<rect x="70.00" y="245.20" width="28.20" height="27.80" fill="#fff" stroke="#c8c8c8" stroke-width="0.55"/>
<path d="M85.51 245.20V273.00M70.00 264.66H98.20" stroke="#dedede" stroke-width="0.5"/>
<path d="M66.80 246.90h2.2M67.20 253.54h1.6M67.20 260.21h1.6M67.20 266.88h1.6M73.38 274.70h1.1M76.77 274.70h1.1M81.84 274.70h1.1M83.54 274.70h1.1M89.74 274.70h1.1M91.43 274.70h1.1M95.94 274.70h1.1" stroke="#8a8a8a" stroke-width="0.5"/>
<ellipse cx="89.74" cy="260.49" rx="2.20" ry="7.23" fill="#000" fill-opacity="0.72" filter="url(#bl)"/>
<ellipse cx="89.74" cy="259.24" rx="0.50" ry="4.31" fill="#fff" fill-opacity="0.36" filter="url(#bl)"/>
<ellipse cx="89.74" cy="263.42" rx="1.30" ry="4.02" fill="#000" fill-opacity="0.396" filter="url(#bl)"/>
<ellipse cx="88.47" cy="268.55" rx="2.60" ry="2.50" fill="#000" fill-opacity="0.97" filter="url(#bl)"/>
<text x="70.60" y="248.70" font-size="4.1" text-anchor="start" font-weight="bold" fill="#222" >0</text>
<text x="98.10" y="248.70" font-size="4.1" text-anchor="end" font-weight="bold" fill="#111" >31.4</text>
<text x="70.60" y="272.40" font-size="4.1" text-anchor="start" font-weight="bold" fill="#222" >0</text>
<text x="98.10" y="272.40" font-size="4.1" text-anchor="end" font-weight="bold" fill="#111" >68.6</text>
<rect x="106.00" y="245.20" width="28.20" height="27.80" fill="#fff" stroke="#c8c8c8" stroke-width="0.55"/>
<path d="M121.51 245.20V273.00M106.00 264.66H134.20" stroke="#dedede" stroke-width="0.5"/>
<path d="M102.80 246.90h2.2M103.20 253.54h1.6M103.20 260.21h1.6M103.20 266.88h1.6M109.38 274.70h1.1M112.77 274.70h1.1M117.84 274.70h1.1M119.54 274.70h1.1M125.74 274.70h1.1M127.43 274.70h1.1M131.94 274.70h1.1" stroke="#8a8a8a" stroke-width="0.5"/>
<ellipse cx="124.33" cy="262.30" rx="2.20" ry="5.42" fill="#000" fill-opacity="0.16" filter="url(#bl)"/>
<ellipse cx="124.33" cy="261.05" rx="0.50" ry="2.50" fill="#fff" fill-opacity="0.08" filter="url(#bl)"/>
<ellipse cx="124.33" cy="264.41" rx="1.30" ry="3.03" fill="#000" fill-opacity="0.08800000000000001" filter="url(#bl)"/>
<ellipse cx="123.06" cy="268.55" rx="3.20" ry="2.50" fill="#000" fill-opacity="0.97" filter="url(#bl)"/>
<text x="106.60" y="248.70" font-size="4.1" text-anchor="start" font-weight="bold" fill="#222" >0</text>
<text x="134.10" y="248.70" font-size="4.1" text-anchor="end" font-weight="bold" fill="#111" >12.2</text>
<text x="106.60" y="272.40" font-size="4.1" text-anchor="start" font-weight="bold" fill="#222" >0</text>
<text x="134.10" y="272.40" font-size="4.1" text-anchor="end" font-weight="bold" fill="#111" >87.8</text>
<rect x="141.60" y="245.20" width="28.20" height="27.80" fill="#fff" stroke="#c8c8c8" stroke-width="0.55"/>
<path d="M157.11 245.20V273.00M141.60 264.66H169.80" stroke="#dedede" stroke-width="0.5"/>
<path d="M138.40 246.90h2.2M138.80 253.54h1.6M138.80 260.21h1.6M138.80 266.88h1.6M144.98 274.70h1.1M148.37 274.70h1.1M153.44 274.70h1.1M155.14 274.70h1.1M161.34 274.70h1.1M163.03 274.70h1.1M167.54 274.70h1.1" stroke="#8a8a8a" stroke-width="0.5"/>
<ellipse cx="161.34" cy="262.57" rx="2.20" ry="5.14" fill="#000" fill-opacity="0.14" filter="url(#bl)"/>
<ellipse cx="161.34" cy="261.32" rx="0.50" ry="2.22" fill="#fff" fill-opacity="0.07" filter="url(#bl)"/>
<ellipse cx="161.34" cy="264.56" rx="1.30" ry="2.88" fill="#000" fill-opacity="0.07700000000000001" filter="url(#bl)"/>
<ellipse cx="160.07" cy="268.55" rx="3.00" ry="2.50" fill="#000" fill-opacity="0.97" filter="url(#bl)"/>
<text x="142.20" y="248.70" font-size="4.1" text-anchor="start" font-weight="bold" fill="#222" >0</text>
<text x="169.70" y="248.70" font-size="4.1" text-anchor="end" font-weight="bold" fill="#111" >7.15</text>
<text x="142.20" y="272.40" font-size="4.1" text-anchor="start" font-weight="bold" fill="#222" >0</text>
<text x="169.70" y="272.40" font-size="4.1" text-anchor="end" font-weight="bold" fill="#111" >92.8</text>
<rect x="186.00" y="144.60" width="28.20" height="27.80" fill="#fff" stroke="#c8c8c8" stroke-width="0.55"/>
<path d="M201.51 144.60V172.40M186.00 168.79H214.20" stroke="#dedede" stroke-width="0.5"/>
<path d="M182.80 146.30h2.2M183.20 152.94h1.6M183.20 159.61h1.6M183.20 166.28h1.6M189.38 174.10h1.1M192.77 174.10h1.1M197.84 174.10h1.1M199.54 174.10h1.1M205.74 174.10h1.1M207.43 174.10h1.1M211.94 174.10h1.1" stroke="#8a8a8a" stroke-width="0.5"/>
<ellipse cx="205.74" cy="163.92" rx="2.80" ry="6.81" fill="#000" fill-opacity="0.4" filter="url(#bl)" transform="rotate(5 205.74 163.92)"/>
<ellipse cx="205.74" cy="165.28" rx="1.74" ry="5.45" fill="#000" fill-opacity="0.9" filter="url(#bl)" transform="rotate(5 205.74 165.28)"/>
<ellipse cx="206.08" cy="162.90" rx="0.32" ry="3.06" fill="#fff" fill-opacity="0.4" filter="url(#bl)" transform="rotate(5 206.08 162.90)"/>
<text x="186.60" y="148.10" font-size="4.1" text-anchor="start" font-weight="bold" fill="#222" >0</text>
<text x="214.10" y="148.10" font-size="4.1" text-anchor="end" font-weight="bold" fill="#111" >18.6</text>
<text x="186.60" y="171.80" font-size="4.1" text-anchor="start" font-weight="bold" fill="#222" >0</text>
<text x="214.10" y="171.80" font-size="4.1" text-anchor="end" font-weight="bold" fill="#111" >81.4</text>
<rect x="221.60" y="144.60" width="28.20" height="27.80" fill="#fff" stroke="#c8c8c8" stroke-width="0.55"/>
<path d="M237.11 144.60V172.40M221.60 168.79H249.80" stroke="#dedede" stroke-width="0.5"/>
<path d="M218.40 146.30h2.2M218.80 152.94h1.6M218.80 159.61h1.6M218.80 166.28h1.6M224.98 174.10h1.1M228.37 174.10h1.1M233.44 174.10h1.1M235.14 174.10h1.1M241.34 174.10h1.1M243.03 174.10h1.1M247.54 174.10h1.1" stroke="#8a8a8a" stroke-width="0.5"/>
<ellipse cx="241.62" cy="163.50" rx="2.80" ry="7.23" fill="#000" fill-opacity="0.4" filter="url(#bl)" transform="rotate(5 241.62 163.50)"/>
<ellipse cx="241.62" cy="164.95" rx="1.74" ry="5.78" fill="#000" fill-opacity="0.9" filter="url(#bl)" transform="rotate(5 241.62 164.95)"/>
<ellipse cx="241.96" cy="162.42" rx="0.32" ry="3.25" fill="#fff" fill-opacity="0.4" filter="url(#bl)" transform="rotate(5 241.96 162.42)"/>
<text x="222.20" y="148.10" font-size="4.1" text-anchor="start" font-weight="bold" fill="#222" >0</text>
<text x="249.70" y="148.10" font-size="4.1" text-anchor="end" font-weight="bold" fill="#111" >23.2</text>
<text x="222.20" y="171.80" font-size="4.1" text-anchor="start" font-weight="bold" fill="#222" >0.031</text>
<text x="249.70" y="171.80" font-size="4.1" text-anchor="end" font-weight="bold" fill="#111" >76.8</text>
<rect x="257.40" y="144.60" width="28.20" height="27.80" fill="#fff" stroke="#c8c8c8" stroke-width="0.55"/>
<path d="M272.91 144.60V172.40M257.40 168.79H285.60" stroke="#dedede" stroke-width="0.5"/>
<path d="M254.20 146.30h2.2M254.60 152.94h1.6M254.60 159.61h1.6M254.60 166.28h1.6M260.78 174.10h1.1M264.17 174.10h1.1M269.24 174.10h1.1M270.94 174.10h1.1M277.14 174.10h1.1M278.83 174.10h1.1M283.34 174.10h1.1" stroke="#8a8a8a" stroke-width="0.5"/>
<ellipse cx="277.14" cy="163.50" rx="2.21" ry="7.78" fill="#000" fill-opacity="0.3" filter="url(#bl)" transform="rotate(4 277.14 163.50)"/>
<ellipse cx="277.14" cy="166.42" rx="2.60" ry="4.86" fill="#000" fill-opacity="0.5" filter="url(#bl)"/>
<ellipse cx="277.14" cy="166.98" rx="1.87" ry="4.31" fill="#000" fill-opacity="0.9" filter="url(#bl)"/>
<ellipse cx="277.42" cy="166.76" rx="0.35" ry="1.94" fill="#fff" fill-opacity="0.4" filter="url(#bl)"/>
<text x="258.00" y="148.10" font-size="4.1" text-anchor="start" font-weight="bold" fill="#222" >0</text>
<text x="285.50" y="148.10" font-size="4.1" text-anchor="end" font-weight="bold" fill="#111" >14.8</text>
<text x="258.00" y="171.80" font-size="4.1" text-anchor="start" font-weight="bold" fill="#222" >0</text>
<text x="285.50" y="171.80" font-size="4.1" text-anchor="end" font-weight="bold" fill="#111" >85.2</text>
<rect x="293.20" y="144.60" width="28.20" height="27.80" fill="#fff" stroke="#c8c8c8" stroke-width="0.55"/>
<path d="M308.71 144.60V172.40M293.20 168.79H321.40" stroke="#dedede" stroke-width="0.5"/>
<path d="M290.00 146.30h2.2M290.40 152.94h1.6M290.40 159.61h1.6M290.40 166.28h1.6M296.58 174.10h1.1M299.97 174.10h1.1M305.04 174.10h1.1M306.74 174.10h1.1M312.94 174.10h1.1M314.63 174.10h1.1M319.14 174.10h1.1" stroke="#8a8a8a" stroke-width="0.5"/>
<ellipse cx="313.22" cy="163.78" rx="2.21" ry="7.51" fill="#000" fill-opacity="0.3" filter="url(#bl)" transform="rotate(4 313.22 163.78)"/>
<ellipse cx="313.22" cy="166.84" rx="2.60" ry="4.45" fill="#000" fill-opacity="0.5" filter="url(#bl)"/>
<ellipse cx="313.22" cy="167.40" rx="1.87" ry="3.89" fill="#000" fill-opacity="0.9" filter="url(#bl)"/>
<ellipse cx="313.50" cy="167.20" rx="0.35" ry="1.75" fill="#fff" fill-opacity="0.4" filter="url(#bl)"/>
<text x="293.80" y="148.10" font-size="4.1" text-anchor="start" font-weight="bold" fill="#222" >0</text>
<text x="321.30" y="148.10" font-size="4.1" text-anchor="end" font-weight="bold" fill="#111" >9.5</text>
<text x="293.80" y="171.80" font-size="4.1" text-anchor="start" font-weight="bold" fill="#222" >0</text>
<text x="321.30" y="171.80" font-size="4.1" text-anchor="end" font-weight="bold" fill="#111" >90.5</text>
<rect x="186.00" y="177.70" width="28.20" height="27.80" fill="#fff" stroke="#c8c8c8" stroke-width="0.55"/>
<path d="M201.51 177.70V205.50M186.00 193.55H214.20" stroke="#dedede" stroke-width="0.5"/>
<path d="M182.80 179.40h2.2M183.20 186.04h1.6M183.20 192.71h1.6M183.20 199.38h1.6M189.38 207.20h1.1M192.77 207.20h1.1M197.84 207.20h1.1M199.54 207.20h1.1M205.74 207.20h1.1M207.43 207.20h1.1M211.94 207.20h1.1" stroke="#8a8a8a" stroke-width="0.5"/>
<ellipse cx="205.74" cy="197.30" rx="2.70" ry="5.70" fill="#000" fill-opacity="0.4" filter="url(#bl)" transform="rotate(5 205.74 197.30)"/>
<ellipse cx="205.74" cy="198.44" rx="1.67" ry="4.56" fill="#000" fill-opacity="0.9" filter="url(#bl)" transform="rotate(5 205.74 198.44)"/>
<ellipse cx="206.08" cy="196.44" rx="0.32" ry="2.56" fill="#fff" fill-opacity="0.4" filter="url(#bl)" transform="rotate(5 206.08 196.44)"/>
<text x="186.60" y="181.20" font-size="4.1" text-anchor="start" font-weight="bold" fill="#222" >0</text>
<text x="214.10" y="181.20" font-size="4.1" text-anchor="end" font-weight="bold" fill="#111" >4.85</text>
<text x="186.60" y="204.90" font-size="4.1" text-anchor="start" font-weight="bold" fill="#222" >0</text>
<text x="214.10" y="204.90" font-size="4.1" text-anchor="end" font-weight="bold" fill="#111" >95.2</text>
<rect x="221.60" y="177.70" width="28.20" height="27.80" fill="#fff" stroke="#c8c8c8" stroke-width="0.55"/>
<path d="M237.11 177.70V205.50M221.60 193.55H249.80" stroke="#dedede" stroke-width="0.5"/>
<path d="M218.40 179.40h2.2M218.80 186.04h1.6M218.80 192.71h1.6M218.80 199.38h1.6M224.98 207.20h1.1M228.37 207.20h1.1M233.44 207.20h1.1M235.14 207.20h1.1M241.34 207.20h1.1M243.03 207.20h1.1M247.54 207.20h1.1" stroke="#8a8a8a" stroke-width="0.5"/>
<ellipse cx="241.62" cy="197.72" rx="2.70" ry="5.28" fill="#000" fill-opacity="0.4" filter="url(#bl)" transform="rotate(5 241.62 197.72)"/>
<ellipse cx="241.62" cy="198.77" rx="1.67" ry="4.23" fill="#000" fill-opacity="0.9" filter="url(#bl)" transform="rotate(5 241.62 198.77)"/>
<ellipse cx="241.96" cy="196.92" rx="0.32" ry="2.38" fill="#fff" fill-opacity="0.4" filter="url(#bl)" transform="rotate(5 241.96 196.92)"/>
<text x="222.20" y="181.20" font-size="4.1" text-anchor="start" font-weight="bold" fill="#222" >0</text>
<text x="249.70" y="181.20" font-size="4.1" text-anchor="end" font-weight="bold" fill="#111" >3.04</text>
<text x="222.20" y="204.90" font-size="4.1" text-anchor="start" font-weight="bold" fill="#222" >0</text>
<text x="249.70" y="204.90" font-size="4.1" text-anchor="end" font-weight="bold" fill="#111" >97</text>
<rect x="257.40" y="177.70" width="28.20" height="27.80" fill="#fff" stroke="#c8c8c8" stroke-width="0.55"/>
<path d="M272.91 177.70V205.50M257.40 193.55H285.60" stroke="#dedede" stroke-width="0.5"/>
<path d="M254.20 179.40h2.2M254.60 186.04h1.6M254.60 192.71h1.6M254.60 199.38h1.6M260.78 207.20h1.1M264.17 207.20h1.1M269.24 207.20h1.1M270.94 207.20h1.1M277.14 207.20h1.1M278.83 207.20h1.1M283.34 207.20h1.1" stroke="#8a8a8a" stroke-width="0.5"/>
<ellipse cx="277.14" cy="188.82" rx="2.40" ry="3.61" fill="#000" fill-opacity="0.6" filter="url(#bl)"/>
<ellipse cx="277.14" cy="188.82" rx="0.90" ry="1.95" fill="#fff" fill-opacity="0.55" filter="url(#bl)"/>
<ellipse cx="277.14" cy="197.30" rx="2.16" ry="5.70" fill="#000" fill-opacity="0.25" filter="url(#bl)"/>
<ellipse cx="277.14" cy="198.13" rx="2.70" ry="4.86" fill="#000" fill-opacity="0.93" filter="url(#bl)"/>
<ellipse cx="277.42" cy="198.28" rx="0.65" ry="1.61" fill="#fff" fill-opacity="0.32" filter="url(#bl)"/>
<text x="258.00" y="181.20" font-size="4.1" text-anchor="start" font-weight="bold" fill="#222" >0</text>
<text x="285.50" y="181.20" font-size="4.1" text-anchor="end" font-weight="bold" fill="#111" >23.6</text>
<text x="258.00" y="204.90" font-size="4.1" text-anchor="start" font-weight="bold" fill="#222" >0</text>
<text x="285.50" y="204.90" font-size="4.1" text-anchor="end" font-weight="bold" fill="#111" >76.4</text>
<rect x="293.20" y="177.70" width="28.20" height="27.80" fill="#fff" stroke="#c8c8c8" stroke-width="0.55"/>
<path d="M308.71 177.70V205.50M293.20 193.55H321.40" stroke="#dedede" stroke-width="0.5"/>
<path d="M290.00 179.40h2.2M290.40 186.04h1.6M290.40 192.71h1.6M290.40 199.38h1.6M296.58 207.20h1.1M299.97 207.20h1.1M305.04 207.20h1.1M306.74 207.20h1.1M312.94 207.20h1.1M314.63 207.20h1.1M319.14 207.20h1.1" stroke="#8a8a8a" stroke-width="0.5"/>
<ellipse cx="313.22" cy="197.58" rx="2.70" ry="5.42" fill="#000" fill-opacity="0.4" filter="url(#bl)" transform="rotate(5 313.22 197.58)"/>
<ellipse cx="313.22" cy="198.66" rx="1.67" ry="4.34" fill="#000" fill-opacity="0.9" filter="url(#bl)" transform="rotate(5 313.22 198.66)"/>
<ellipse cx="313.56" cy="196.76" rx="0.32" ry="2.44" fill="#fff" fill-opacity="0.4" filter="url(#bl)" transform="rotate(5 313.56 196.76)"/>
<text x="293.80" y="181.20" font-size="4.1" text-anchor="start" font-weight="bold" fill="#222" >0</text>
<text x="321.30" y="181.20" font-size="4.1" text-anchor="end" font-weight="bold" fill="#111" >3.28</text>
<text x="293.80" y="204.90" font-size="4.1" text-anchor="start" font-weight="bold" fill="#222" >0</text>
<text x="321.30" y="204.90" font-size="4.1" text-anchor="end" font-weight="bold" fill="#111" >96.7</text>
<rect x="186.00" y="211.70" width="28.20" height="27.80" fill="#fff" stroke="#c8c8c8" stroke-width="0.55"/>
<path d="M201.51 211.70V239.50M186.00 229.49H214.20" stroke="#dedede" stroke-width="0.5"/>
<path d="M182.80 213.40h2.2M183.20 220.04h1.6M183.20 226.71h1.6M183.20 233.38h1.6M189.38 241.20h1.1M192.77 241.20h1.1M197.84 241.20h1.1M199.54 241.20h1.1M205.74 241.20h1.1M207.43 241.20h1.1M211.94 241.20h1.1" stroke="#8a8a8a" stroke-width="0.5"/>
<ellipse cx="208.28" cy="231.58" rx="2.29" ry="4.31" fill="#000" fill-opacity="0.3" filter="url(#bl)" transform="rotate(4 208.28 231.58)"/>
<ellipse cx="208.28" cy="233.80" rx="2.70" ry="2.09" fill="#000" fill-opacity="0.5" filter="url(#bl)"/>
<ellipse cx="208.28" cy="234.36" rx="1.94" ry="1.53" fill="#000" fill-opacity="0.9" filter="url(#bl)"/>
<ellipse cx="208.56" cy="234.28" rx="0.35" ry="0.69" fill="#fff" fill-opacity="0.4" filter="url(#bl)"/>
<text x="186.60" y="215.20" font-size="4.1" text-anchor="start" font-weight="bold" fill="#222" >0</text>
<text x="214.10" y="215.20" font-size="4.1" text-anchor="end" font-weight="bold" fill="#111" >5.76</text>
<text x="186.60" y="238.90" font-size="4.1" text-anchor="start" font-weight="bold" fill="#222" >0</text>
<text x="214.10" y="238.90" font-size="4.1" text-anchor="end" font-weight="bold" fill="#111" >94.2</text>
<rect x="221.60" y="211.70" width="28.20" height="27.80" fill="#fff" stroke="#c8c8c8" stroke-width="0.55"/>
<path d="M237.11 211.70V239.50M221.60 229.49H249.80" stroke="#dedede" stroke-width="0.5"/>
<path d="M218.40 213.40h2.2M218.80 220.04h1.6M218.80 226.71h1.6M218.80 233.38h1.6M224.98 241.20h1.1M228.37 241.20h1.1M233.44 241.20h1.1M235.14 241.20h1.1M241.34 241.20h1.1M243.03 241.20h1.1M247.54 241.20h1.1" stroke="#8a8a8a" stroke-width="0.5"/>
<ellipse cx="243.88" cy="231.58" rx="2.29" ry="4.31" fill="#000" fill-opacity="0.3" filter="url(#bl)" transform="rotate(4 243.88 231.58)"/>
<ellipse cx="243.88" cy="233.80" rx="2.70" ry="2.09" fill="#000" fill-opacity="0.5" filter="url(#bl)"/>
<ellipse cx="243.88" cy="234.36" rx="1.94" ry="1.53" fill="#000" fill-opacity="0.9" filter="url(#bl)"/>
<ellipse cx="244.16" cy="234.28" rx="0.35" ry="0.69" fill="#fff" fill-opacity="0.4" filter="url(#bl)"/>
<text x="222.20" y="215.20" font-size="4.1" text-anchor="start" font-weight="bold" fill="#222" >0</text>
<text x="249.70" y="215.20" font-size="4.1" text-anchor="end" font-weight="bold" fill="#111" >6.65</text>
<text x="222.20" y="238.90" font-size="4.1" text-anchor="start" font-weight="bold" fill="#222" >0</text>
<text x="249.70" y="238.90" font-size="4.1" text-anchor="end" font-weight="bold" fill="#111" >93.4</text>
<rect x="257.40" y="211.70" width="28.20" height="27.80" fill="#fff" stroke="#c8c8c8" stroke-width="0.55"/>
<path d="M272.91 211.70V239.50M257.40 229.49H285.60" stroke="#dedede" stroke-width="0.5"/>
<path d="M254.20 213.40h2.2M254.60 220.04h1.6M254.60 226.71h1.6M254.60 233.38h1.6M260.78 241.20h1.1M264.17 241.20h1.1M269.24 241.20h1.1M270.94 241.20h1.1M277.14 241.20h1.1M278.83 241.20h1.1M283.34 241.20h1.1" stroke="#8a8a8a" stroke-width="0.5"/>
<ellipse cx="279.68" cy="230.60" rx="2.80" ry="6.12" fill="#000" fill-opacity="0.4" filter="url(#bl)" transform="rotate(5 279.68 230.60)"/>
<ellipse cx="279.68" cy="231.83" rx="1.74" ry="4.89" fill="#000" fill-opacity="0.9" filter="url(#bl)" transform="rotate(5 279.68 231.83)"/>
<ellipse cx="280.02" cy="229.69" rx="0.32" ry="2.75" fill="#fff" fill-opacity="0.4" filter="url(#bl)" transform="rotate(5 280.02 229.69)"/>
<text x="258.00" y="215.20" font-size="4.1" text-anchor="start" font-weight="bold" fill="#222" >0</text>
<text x="285.50" y="215.20" font-size="4.1" text-anchor="end" font-weight="bold" fill="#111" >24.7</text>
<text x="258.00" y="238.90" font-size="4.1" text-anchor="start" font-weight="bold" fill="#222" >0</text>
<text x="285.50" y="238.90" font-size="4.1" text-anchor="end" font-weight="bold" fill="#111" >75.3</text>
<rect x="293.20" y="211.70" width="28.20" height="27.80" fill="#fff" stroke="#c8c8c8" stroke-width="0.55"/>
<path d="M308.71 211.70V239.50M293.20 229.49H321.40" stroke="#dedede" stroke-width="0.5"/>
<path d="M290.00 213.40h2.2M290.40 220.04h1.6M290.40 226.71h1.6M290.40 233.38h1.6M296.58 241.20h1.1M299.97 241.20h1.1M305.04 241.20h1.1M306.74 241.20h1.1M312.94 241.20h1.1M314.63 241.20h1.1M319.14 241.20h1.1" stroke="#8a8a8a" stroke-width="0.5"/>
<ellipse cx="315.76" cy="230.60" rx="2.80" ry="6.12" fill="#000" fill-opacity="0.4" filter="url(#bl)" transform="rotate(5 315.76 230.60)"/>
<ellipse cx="315.76" cy="231.83" rx="1.74" ry="4.89" fill="#000" fill-opacity="0.9" filter="url(#bl)" transform="rotate(5 315.76 231.83)"/>
<ellipse cx="316.10" cy="229.69" rx="0.32" ry="2.75" fill="#fff" fill-opacity="0.4" filter="url(#bl)" transform="rotate(5 316.10 229.69)"/>
<text x="293.80" y="215.20" font-size="4.1" text-anchor="start" font-weight="bold" fill="#222" >0</text>
<text x="321.30" y="215.20" font-size="4.1" text-anchor="end" font-weight="bold" fill="#111" >31.6</text>
<text x="293.80" y="238.90" font-size="4.1" text-anchor="start" font-weight="bold" fill="#222" >0</text>
<text x="321.30" y="238.90" font-size="4.1" text-anchor="end" font-weight="bold" fill="#111" >68.4</text>
<rect x="186.00" y="245.20" width="28.20" height="27.80" fill="#fff" stroke="#c8c8c8" stroke-width="0.55"/>
<path d="M201.51 245.20V273.00M186.00 264.66H214.20" stroke="#dedede" stroke-width="0.5"/>
<path d="M182.80 246.90h2.2M183.20 253.54h1.6M183.20 260.21h1.6M183.20 266.88h1.6M189.38 274.70h1.1M192.77 274.70h1.1M197.84 274.70h1.1M199.54 274.70h1.1M205.74 274.70h1.1M207.43 274.70h1.1M211.94 274.70h1.1" stroke="#8a8a8a" stroke-width="0.5"/>
<ellipse cx="205.74" cy="261.46" rx="2.20" ry="6.81" fill="#000" fill-opacity="0.72" filter="url(#bl)"/>
<ellipse cx="205.74" cy="260.21" rx="0.50" ry="3.89" fill="#fff" fill-opacity="0.36" filter="url(#bl)"/>
<ellipse cx="205.74" cy="264.20" rx="1.30" ry="3.79" fill="#000" fill-opacity="0.396" filter="url(#bl)"/>
<ellipse cx="204.47" cy="269.11" rx="2.60" ry="2.50" fill="#000" fill-opacity="0.97" filter="url(#bl)"/>
<text x="186.60" y="248.70" font-size="4.1" text-anchor="start" font-weight="bold" fill="#222" >0</text>
<text x="214.10" y="248.70" font-size="4.1" text-anchor="end" font-weight="bold" fill="#111" >20.6</text>
<text x="186.60" y="272.40" font-size="4.1" text-anchor="start" font-weight="bold" fill="#222" >0</text>
<text x="214.10" y="272.40" font-size="4.1" text-anchor="end" font-weight="bold" fill="#111" >79.4</text>
<rect x="221.60" y="245.20" width="28.20" height="27.80" fill="#fff" stroke="#c8c8c8" stroke-width="0.55"/>
<path d="M237.11 245.20V273.00M221.60 264.66H249.80" stroke="#dedede" stroke-width="0.5"/>
<path d="M218.40 246.90h2.2M218.80 253.54h1.6M218.80 260.21h1.6M218.80 266.88h1.6M224.98 274.70h1.1M228.37 274.70h1.1M233.44 274.70h1.1M235.14 274.70h1.1M241.34 274.70h1.1M243.03 274.70h1.1M247.54 274.70h1.1" stroke="#8a8a8a" stroke-width="0.5"/>
<ellipse cx="241.62" cy="261.32" rx="2.20" ry="6.95" fill="#000" fill-opacity="0.72" filter="url(#bl)"/>
<ellipse cx="241.62" cy="260.07" rx="0.50" ry="4.03" fill="#fff" fill-opacity="0.36" filter="url(#bl)"/>
<ellipse cx="241.62" cy="264.12" rx="1.30" ry="3.87" fill="#000" fill-opacity="0.396" filter="url(#bl)"/>
<ellipse cx="240.35" cy="269.11" rx="2.60" ry="2.50" fill="#000" fill-opacity="0.97" filter="url(#bl)"/>
<text x="222.20" y="248.70" font-size="4.1" text-anchor="start" font-weight="bold" fill="#222" >0</text>
<text x="249.70" y="248.70" font-size="4.1" text-anchor="end" font-weight="bold" fill="#111" >22.6</text>
<text x="222.20" y="272.40" font-size="4.1" text-anchor="start" font-weight="bold" fill="#222" >0</text>
<text x="249.70" y="272.40" font-size="4.1" text-anchor="end" font-weight="bold" fill="#111" >77.4</text>
<rect x="257.40" y="245.20" width="28.20" height="27.80" fill="#fff" stroke="#c8c8c8" stroke-width="0.55"/>
<path d="M272.91 245.20V273.00M257.40 264.66H285.60" stroke="#dedede" stroke-width="0.5"/>
<path d="M254.20 246.90h2.2M254.60 253.54h1.6M254.60 260.21h1.6M254.60 266.88h1.6M260.78 274.70h1.1M264.17 274.70h1.1M269.24 274.70h1.1M270.94 274.70h1.1M277.14 274.70h1.1M278.83 274.70h1.1M283.34 274.70h1.1" stroke="#8a8a8a" stroke-width="0.5"/>
<ellipse cx="277.14" cy="262.85" rx="2.20" ry="5.42" fill="#000" fill-opacity="0.14" filter="url(#bl)"/>
<ellipse cx="277.14" cy="261.60" rx="0.50" ry="2.50" fill="#fff" fill-opacity="0.07" filter="url(#bl)"/>
<ellipse cx="277.14" cy="264.97" rx="1.30" ry="3.03" fill="#000" fill-opacity="0.07700000000000001" filter="url(#bl)"/>
<ellipse cx="275.87" cy="269.11" rx="3.00" ry="2.50" fill="#000" fill-opacity="0.97" filter="url(#bl)"/>
<text x="258.00" y="248.70" font-size="4.1" text-anchor="start" font-weight="bold" fill="#222" >0</text>
<text x="285.50" y="248.70" font-size="4.1" text-anchor="end" font-weight="bold" fill="#111" >7.13</text>
<text x="258.00" y="272.40" font-size="4.1" text-anchor="start" font-weight="bold" fill="#222" >0</text>
<text x="285.50" y="272.40" font-size="4.1" text-anchor="end" font-weight="bold" fill="#111" >92.9</text>
<rect x="293.20" y="245.20" width="28.20" height="27.80" fill="#fff" stroke="#c8c8c8" stroke-width="0.55"/>
<path d="M308.71 245.20V273.00M293.20 264.66H321.40" stroke="#dedede" stroke-width="0.5"/>
<path d="M290.00 246.90h2.2M290.40 253.54h1.6M290.40 260.21h1.6M290.40 266.88h1.6M296.58 274.70h1.1M299.97 274.70h1.1M305.04 274.70h1.1M306.74 274.70h1.1M312.94 274.70h1.1M314.63 274.70h1.1M319.14 274.70h1.1" stroke="#8a8a8a" stroke-width="0.5"/>
<ellipse cx="313.22" cy="262.85" rx="2.20" ry="5.42" fill="#000" fill-opacity="0.14" filter="url(#bl)"/>
<ellipse cx="313.22" cy="261.60" rx="0.50" ry="2.50" fill="#fff" fill-opacity="0.07" filter="url(#bl)"/>
<ellipse cx="313.22" cy="264.97" rx="1.30" ry="3.03" fill="#000" fill-opacity="0.07700000000000001" filter="url(#bl)"/>
<ellipse cx="311.95" cy="269.11" rx="3.00" ry="2.50" fill="#000" fill-opacity="0.97" filter="url(#bl)"/>
<text x="293.80" y="248.70" font-size="4.1" text-anchor="start" font-weight="bold" fill="#222" >0</text>
<text x="321.30" y="248.70" font-size="4.1" text-anchor="end" font-weight="bold" fill="#111" >6.61</text>
<text x="293.80" y="272.40" font-size="4.1" text-anchor="start" font-weight="bold" fill="#222" >0</text>
<text x="321.30" y="272.40" font-size="4.1" text-anchor="end" font-weight="bold" fill="#111" >93.4</text>
<rect x="333.20" y="145.10" width="28.20" height="27.80" fill="#fff" stroke="#c8c8c8" stroke-width="0.55"/>
<path d="M348.71 145.10V172.90M333.20 169.29H361.40" stroke="#dedede" stroke-width="0.5"/>
<path d="M330.00 146.80h2.2M330.40 153.44h1.6M330.40 160.11h1.6M330.40 166.78h1.6M336.58 174.60h1.1M339.97 174.60h1.1M345.04 174.60h1.1M346.74 174.60h1.1M352.94 174.60h1.1M354.63 174.60h1.1M359.14 174.60h1.1" stroke="#8a8a8a" stroke-width="0.5"/>
<ellipse cx="353.22" cy="164.00" rx="2.40" ry="6.12" fill="#000" fill-opacity="0.4" filter="url(#bl)" transform="rotate(8 353.22 164.00)"/>
<ellipse cx="353.22" cy="165.23" rx="1.49" ry="4.89" fill="#000" fill-opacity="0.9" filter="url(#bl)" transform="rotate(8 353.22 165.23)"/>
<ellipse cx="353.56" cy="163.09" rx="0.32" ry="2.75" fill="#fff" fill-opacity="0.4" filter="url(#bl)" transform="rotate(8 353.56 163.09)"/>
<text x="333.80" y="148.60" font-size="4.1" text-anchor="start" font-weight="bold" fill="#222" >0.24</text>
<text x="361.30" y="148.60" font-size="4.1" text-anchor="end" font-weight="bold" fill="#111" >27.5</text>
<text x="333.80" y="172.30" font-size="4.1" text-anchor="start" font-weight="bold" fill="#222" >0.022</text>
<text x="361.30" y="172.30" font-size="4.1" text-anchor="end" font-weight="bold" fill="#111" >72.2</text>
<rect x="368.80" y="145.10" width="28.20" height="27.80" fill="#fff" stroke="#c8c8c8" stroke-width="0.55"/>
<path d="M384.31 145.10V172.90M368.80 169.29H397.00" stroke="#dedede" stroke-width="0.5"/>
<path d="M365.60 146.80h2.2M366.00 153.44h1.6M366.00 160.11h1.6M366.00 166.78h1.6M372.18 174.60h1.1M375.57 174.60h1.1M380.64 174.60h1.1M382.34 174.60h1.1M388.54 174.60h1.1M390.23 174.60h1.1M394.74 174.60h1.1" stroke="#8a8a8a" stroke-width="0.5"/>
<ellipse cx="389.39" cy="164.00" rx="2.40" ry="6.12" fill="#000" fill-opacity="0.4" filter="url(#bl)" transform="rotate(8 389.39 164.00)"/>
<ellipse cx="389.39" cy="165.23" rx="1.49" ry="4.89" fill="#000" fill-opacity="0.9" filter="url(#bl)" transform="rotate(8 389.39 165.23)"/>
<ellipse cx="389.72" cy="163.09" rx="0.32" ry="2.75" fill="#fff" fill-opacity="0.4" filter="url(#bl)" transform="rotate(8 389.72 163.09)"/>
<text x="369.40" y="148.60" font-size="4.1" text-anchor="start" font-weight="bold" fill="#222" >0.038</text>
<text x="396.90" y="148.60" font-size="4.1" text-anchor="end" font-weight="bold" fill="#111" >19.7</text>
<text x="369.40" y="172.30" font-size="4.1" text-anchor="start" font-weight="bold" fill="#222" >0.038</text>
<text x="396.90" y="172.30" font-size="4.1" text-anchor="end" font-weight="bold" fill="#111" >80.2</text>
<rect x="405.20" y="145.10" width="28.20" height="27.80" fill="#fff" stroke="#c8c8c8" stroke-width="0.55"/>
<path d="M420.71 145.10V172.90M405.20 169.29H433.40" stroke="#dedede" stroke-width="0.5"/>
<path d="M402.00 146.80h2.2M402.40 153.44h1.6M402.40 160.11h1.6M402.40 166.78h1.6M408.58 174.60h1.1M411.97 174.60h1.1M417.04 174.60h1.1M418.74 174.60h1.1M424.94 174.60h1.1M426.63 174.60h1.1M431.14 174.60h1.1" stroke="#8a8a8a" stroke-width="0.5"/>
<ellipse cx="424.38" cy="166.64" rx="2.40" ry="4.86" fill="#000" fill-opacity="0.25" filter="url(#bl)"/>
<ellipse cx="424.38" cy="167.48" rx="3.00" ry="4.03" fill="#000" fill-opacity="0.93" filter="url(#bl)"/>
<ellipse cx="424.66" cy="167.60" rx="0.72" ry="1.33" fill="#fff" fill-opacity="0.32" filter="url(#bl)"/>
<text x="405.80" y="148.60" font-size="4.1" text-anchor="start" font-weight="bold" fill="#222" >0.072</text>
<text x="433.30" y="148.60" font-size="4.1" text-anchor="end" font-weight="bold" fill="#111" >5.47</text>
<text x="405.80" y="172.30" font-size="4.1" text-anchor="start" font-weight="bold" fill="#222" >0.049</text>
<text x="433.30" y="172.30" font-size="4.1" text-anchor="end" font-weight="bold" fill="#111" >94.4</text>
<rect x="441.20" y="145.10" width="28.20" height="27.80" fill="#fff" stroke="#c8c8c8" stroke-width="0.55"/>
<path d="M456.71 145.10V172.90M441.20 169.29H469.40" stroke="#dedede" stroke-width="0.5"/>
<path d="M438.00 146.80h2.2M438.40 153.44h1.6M438.40 160.11h1.6M438.40 166.78h1.6M444.58 174.60h1.1M447.97 174.60h1.1M453.04 174.60h1.1M454.74 174.60h1.1M460.94 174.60h1.1M462.63 174.60h1.1M467.14 174.60h1.1" stroke="#8a8a8a" stroke-width="0.5"/>
<ellipse cx="460.38" cy="166.37" rx="2.21" ry="5.14" fill="#000" fill-opacity="0.3" filter="url(#bl)" transform="rotate(4 460.38 166.37)"/>
<ellipse cx="460.38" cy="167.48" rx="2.60" ry="4.03" fill="#000" fill-opacity="0.5" filter="url(#bl)"/>
<ellipse cx="460.38" cy="168.03" rx="1.87" ry="3.47" fill="#000" fill-opacity="0.9" filter="url(#bl)"/>
<ellipse cx="460.66" cy="167.86" rx="0.35" ry="1.56" fill="#fff" fill-opacity="0.4" filter="url(#bl)"/>
<text x="441.80" y="148.60" font-size="4.1" text-anchor="start" font-weight="bold" fill="#222" >0</text>
<text x="469.30" y="148.60" font-size="4.1" text-anchor="end" font-weight="bold" fill="#111" >4.02</text>
<text x="441.80" y="172.30" font-size="4.1" text-anchor="start" font-weight="bold" fill="#222" >0</text>
<text x="469.30" y="172.30" font-size="4.1" text-anchor="end" font-weight="bold" fill="#111" >96</text>
<rect x="333.20" y="178.40" width="28.20" height="27.80" fill="#fff" stroke="#c8c8c8" stroke-width="0.55"/>
<path d="M348.71 178.40V206.20M333.20 194.25H361.40" stroke="#dedede" stroke-width="0.5"/>
<path d="M330.00 180.10h2.2M330.40 186.74h1.6M330.40 193.41h1.6M330.40 200.08h1.6M336.58 207.90h1.1M339.97 207.90h1.1M345.04 207.90h1.1M346.74 207.90h1.1M352.94 207.90h1.1M354.63 207.90h1.1M359.14 207.90h1.1" stroke="#8a8a8a" stroke-width="0.5"/>
<ellipse cx="352.94" cy="200.50" rx="2.16" ry="4.86" fill="#000" fill-opacity="0.25" filter="url(#bl)"/>
<ellipse cx="352.94" cy="201.34" rx="2.70" ry="4.03" fill="#000" fill-opacity="0.93" filter="url(#bl)"/>
<ellipse cx="353.22" cy="201.46" rx="0.65" ry="1.33" fill="#fff" fill-opacity="0.32" filter="url(#bl)"/>
<text x="333.80" y="181.90" font-size="4.1" text-anchor="start" font-weight="bold" fill="#222" >0</text>
<text x="361.30" y="181.90" font-size="4.1" text-anchor="end" font-weight="bold" fill="#111" >0.98</text>
<text x="333.80" y="205.60" font-size="4.1" text-anchor="start" font-weight="bold" fill="#222" >0</text>
<text x="361.30" y="205.60" font-size="4.1" text-anchor="end" font-weight="bold" fill="#111" >99</text>
<rect x="368.80" y="178.40" width="28.20" height="27.80" fill="#fff" stroke="#c8c8c8" stroke-width="0.55"/>
<path d="M384.31 178.40V206.20M368.80 194.25H397.00" stroke="#dedede" stroke-width="0.5"/>
<path d="M365.60 180.10h2.2M366.00 186.74h1.6M366.00 193.41h1.6M366.00 200.08h1.6M372.18 207.90h1.1M375.57 207.90h1.1M380.64 207.90h1.1M382.34 207.90h1.1M388.54 207.90h1.1M390.23 207.90h1.1M394.74 207.90h1.1" stroke="#8a8a8a" stroke-width="0.5"/>
<ellipse cx="389.39" cy="200.50" rx="2.08" ry="4.86" fill="#000" fill-opacity="0.25" filter="url(#bl)"/>
<ellipse cx="389.39" cy="201.34" rx="2.60" ry="4.03" fill="#000" fill-opacity="0.93" filter="url(#bl)"/>
<ellipse cx="389.67" cy="201.46" rx="0.62" ry="1.33" fill="#fff" fill-opacity="0.32" filter="url(#bl)"/>
<text x="369.40" y="181.90" font-size="4.1" text-anchor="start" font-weight="bold" fill="#222" >0</text>
<text x="396.90" y="181.90" font-size="4.1" text-anchor="end" font-weight="bold" fill="#111" >0.42</text>
<text x="369.40" y="205.60" font-size="4.1" text-anchor="start" font-weight="bold" fill="#222" >0</text>
<text x="396.90" y="205.60" font-size="4.1" text-anchor="end" font-weight="bold" fill="#111" >99.6</text>
<rect x="405.20" y="178.40" width="28.20" height="27.80" fill="#fff" stroke="#c8c8c8" stroke-width="0.55"/>
<path d="M420.71 178.40V206.20M405.20 194.25H433.40" stroke="#dedede" stroke-width="0.5"/>
<path d="M402.00 180.10h2.2M402.40 186.74h1.6M402.40 193.41h1.6M402.40 200.08h1.6M408.58 207.90h1.1M411.97 207.90h1.1M417.04 207.90h1.1M418.74 207.90h1.1M424.94 207.90h1.1M426.63 207.90h1.1M431.14 207.90h1.1" stroke="#8a8a8a" stroke-width="0.5"/>
<ellipse cx="424.38" cy="191.19" rx="2.20" ry="4.45" fill="#000" fill-opacity="0.3" filter="url(#bl)"/>
<ellipse cx="424.38" cy="191.19" rx="0.80" ry="2.78" fill="#fff" fill-opacity="0.5" filter="url(#bl)"/>
<ellipse cx="424.38" cy="200.22" rx="2.40" ry="5.14" fill="#000" fill-opacity="0.25" filter="url(#bl)"/>
<ellipse cx="424.38" cy="201.06" rx="3.00" ry="4.31" fill="#000" fill-opacity="0.93" filter="url(#bl)"/>
<ellipse cx="424.66" cy="201.19" rx="0.72" ry="1.42" fill="#fff" fill-opacity="0.32" filter="url(#bl)"/>
<text x="405.80" y="181.90" font-size="4.1" text-anchor="start" font-weight="bold" fill="#222" >0</text>
<text x="433.30" y="181.90" font-size="4.1" text-anchor="end" font-weight="bold" fill="#111" >15.7</text>
<text x="405.80" y="205.60" font-size="4.1" text-anchor="start" font-weight="bold" fill="#222" >0</text>
<text x="433.30" y="205.60" font-size="4.1" text-anchor="end" font-weight="bold" fill="#111" >84.3</text>
<rect x="441.20" y="178.40" width="28.20" height="27.80" fill="#fff" stroke="#c8c8c8" stroke-width="0.55"/>
<path d="M456.71 178.40V206.20M441.20 194.25H469.40" stroke="#dedede" stroke-width="0.5"/>
<path d="M438.00 180.10h2.2M438.40 186.74h1.6M438.40 193.41h1.6M438.40 200.08h1.6M444.58 207.90h1.1M447.97 207.90h1.1M453.04 207.90h1.1M454.74 207.90h1.1M460.94 207.90h1.1M462.63 207.90h1.1M467.14 207.90h1.1" stroke="#8a8a8a" stroke-width="0.5"/>
<ellipse cx="460.66" cy="200.50" rx="2.16" ry="4.86" fill="#000" fill-opacity="0.25" filter="url(#bl)"/>
<ellipse cx="460.66" cy="201.34" rx="2.70" ry="4.03" fill="#000" fill-opacity="0.93" filter="url(#bl)"/>
<ellipse cx="460.94" cy="201.46" rx="0.65" ry="1.33" fill="#fff" fill-opacity="0.32" filter="url(#bl)"/>
<text x="441.80" y="181.90" font-size="4.1" text-anchor="start" font-weight="bold" fill="#222" >0</text>
<text x="469.30" y="181.90" font-size="4.1" text-anchor="end" font-weight="bold" fill="#111" >0.61</text>
<text x="441.80" y="205.60" font-size="4.1" text-anchor="start" font-weight="bold" fill="#222" >0</text>
<text x="469.30" y="205.60" font-size="4.1" text-anchor="end" font-weight="bold" fill="#111" >99.4</text>
<rect x="333.20" y="213.00" width="28.20" height="27.80" fill="#fff" stroke="#c8c8c8" stroke-width="0.55"/>
<path d="M348.71 213.00V240.80M333.20 230.79H361.40" stroke="#dedede" stroke-width="0.5"/>
<path d="M330.00 214.70h2.2M330.40 221.34h1.6M330.40 228.01h1.6M330.40 234.68h1.6M336.58 242.50h1.1M339.97 242.50h1.1M345.04 242.50h1.1M346.74 242.50h1.1M352.94 242.50h1.1M354.63 242.50h1.1M359.14 242.50h1.1" stroke="#8a8a8a" stroke-width="0.5"/>
<ellipse cx="354.91" cy="235.24" rx="1.84" ry="2.50" fill="#000" fill-opacity="0.25" filter="url(#bl)"/>
<ellipse cx="354.91" cy="236.07" rx="2.30" ry="1.67" fill="#000" fill-opacity="0.8" filter="url(#bl)"/>
<ellipse cx="355.20" cy="236.12" rx="0.55" ry="0.55" fill="#fff" fill-opacity="0.15" filter="url(#bl)"/>
<text x="333.80" y="216.50" font-size="4.1" text-anchor="start" font-weight="bold" fill="#222" >0</text>
<text x="361.30" y="216.50" font-size="4.1" text-anchor="end" font-weight="bold" fill="#111" >1.66</text>
<text x="333.80" y="240.20" font-size="4.1" text-anchor="start" font-weight="bold" fill="#222" >0</text>
<text x="361.30" y="240.20" font-size="4.1" text-anchor="end" font-weight="bold" fill="#111" >98.3</text>
<rect x="368.80" y="213.00" width="28.20" height="27.80" fill="#fff" stroke="#c8c8c8" stroke-width="0.55"/>
<path d="M384.31 213.00V240.80M368.80 230.79H397.00" stroke="#dedede" stroke-width="0.5"/>
<path d="M365.60 214.70h2.2M366.00 221.34h1.6M366.00 228.01h1.6M366.00 234.68h1.6M372.18 242.50h1.1M375.57 242.50h1.1M380.64 242.50h1.1M382.34 242.50h1.1M388.54 242.50h1.1M390.23 242.50h1.1M394.74 242.50h1.1" stroke="#8a8a8a" stroke-width="0.5"/>
<ellipse cx="391.36" cy="235.24" rx="1.84" ry="2.50" fill="#000" fill-opacity="0.25" filter="url(#bl)"/>
<ellipse cx="391.36" cy="236.07" rx="2.30" ry="1.67" fill="#000" fill-opacity="0.8" filter="url(#bl)"/>
<ellipse cx="391.64" cy="236.12" rx="0.55" ry="0.55" fill="#fff" fill-opacity="0.15" filter="url(#bl)"/>
<text x="369.40" y="216.50" font-size="4.1" text-anchor="start" font-weight="bold" fill="#222" >0</text>
<text x="396.90" y="216.50" font-size="4.1" text-anchor="end" font-weight="bold" fill="#111" >4.11</text>
<text x="369.40" y="240.20" font-size="4.1" text-anchor="start" font-weight="bold" fill="#222" >0</text>
<text x="396.90" y="240.20" font-size="4.1" text-anchor="end" font-weight="bold" fill="#111" >95.9</text>
<rect x="405.20" y="213.00" width="28.20" height="27.80" fill="#fff" stroke="#c8c8c8" stroke-width="0.55"/>
<path d="M420.71 213.00V240.80M405.20 230.79H433.40" stroke="#dedede" stroke-width="0.5"/>
<path d="M402.00 214.70h2.2M402.40 221.34h1.6M402.40 228.01h1.6M402.40 234.68h1.6M408.58 242.50h1.1M411.97 242.50h1.1M417.04 242.50h1.1M418.74 242.50h1.1M424.94 242.50h1.1M426.63 242.50h1.1M431.14 242.50h1.1" stroke="#8a8a8a" stroke-width="0.5"/>
<ellipse cx="426.63" cy="235.10" rx="2.40" ry="3.75" fill="#000" fill-opacity="0.25" filter="url(#bl)"/>
<ellipse cx="426.63" cy="235.94" rx="3.00" ry="2.92" fill="#000" fill-opacity="0.93" filter="url(#bl)"/>
<ellipse cx="426.91" cy="236.02" rx="0.72" ry="0.96" fill="#fff" fill-opacity="0.32" filter="url(#bl)"/>
<text x="405.80" y="216.50" font-size="4.1" text-anchor="start" font-weight="bold" fill="#222" >0</text>
<text x="433.30" y="216.50" font-size="4.1" text-anchor="end" font-weight="bold" fill="#111" >8.16</text>
<text x="405.80" y="240.20" font-size="4.1" text-anchor="start" font-weight="bold" fill="#222" >0</text>
<text x="433.30" y="240.20" font-size="4.1" text-anchor="end" font-weight="bold" fill="#111" >91.8</text>
<rect x="441.20" y="213.00" width="28.20" height="27.80" fill="#fff" stroke="#c8c8c8" stroke-width="0.55"/>
<path d="M456.71 213.00V240.80M441.20 230.79H469.40" stroke="#dedede" stroke-width="0.5"/>
<path d="M438.00 214.70h2.2M438.40 221.34h1.6M438.40 228.01h1.6M438.40 234.68h1.6M444.58 242.50h1.1M447.97 242.50h1.1M453.04 242.50h1.1M454.74 242.50h1.1M460.94 242.50h1.1M462.63 242.50h1.1M467.14 242.50h1.1" stroke="#8a8a8a" stroke-width="0.5"/>
<ellipse cx="462.91" cy="235.10" rx="2.40" ry="3.75" fill="#000" fill-opacity="0.25" filter="url(#bl)"/>
<ellipse cx="462.91" cy="235.94" rx="3.00" ry="2.92" fill="#000" fill-opacity="0.93" filter="url(#bl)"/>
<ellipse cx="463.20" cy="236.02" rx="0.72" ry="0.96" fill="#fff" fill-opacity="0.32" filter="url(#bl)"/>
<text x="441.80" y="216.50" font-size="4.1" text-anchor="start" font-weight="bold" fill="#222" >0</text>
<text x="469.30" y="216.50" font-size="4.1" text-anchor="end" font-weight="bold" fill="#111" >8.8</text>
<text x="441.80" y="240.20" font-size="4.1" text-anchor="start" font-weight="bold" fill="#222" >0</text>
<text x="469.30" y="240.20" font-size="4.1" text-anchor="end" font-weight="bold" fill="#111" >91.1</text>
<rect x="333.20" y="246.30" width="28.20" height="27.80" fill="#fff" stroke="#c8c8c8" stroke-width="0.55"/>
<path d="M348.71 246.30V274.10M333.20 265.76H361.40" stroke="#dedede" stroke-width="0.5"/>
<path d="M330.00 248.00h2.2M330.40 254.64h1.6M330.40 261.31h1.6M330.40 267.98h1.6M336.58 275.80h1.1M339.97 275.80h1.1M345.04 275.80h1.1M346.74 275.80h1.1M352.94 275.80h1.1M354.63 275.80h1.1M359.14 275.80h1.1" stroke="#8a8a8a" stroke-width="0.5"/>
<ellipse cx="353.50" cy="262.29" rx="2.20" ry="7.09" fill="#000" fill-opacity="0.72" filter="url(#bl)"/>
<ellipse cx="353.50" cy="261.03" rx="0.50" ry="4.17" fill="#fff" fill-opacity="0.36" filter="url(#bl)"/>
<ellipse cx="353.50" cy="265.15" rx="1.30" ry="3.95" fill="#000" fill-opacity="0.396" filter="url(#bl)"/>
<ellipse cx="352.24" cy="270.07" rx="2.60" ry="2.36" fill="#000" fill-opacity="0.97" filter="url(#bl)"/>
<text x="333.80" y="249.80" font-size="4.1" text-anchor="start" font-weight="bold" fill="#222" >0</text>
<text x="361.30" y="249.80" font-size="4.1" text-anchor="end" font-weight="bold" fill="#111" >24.2</text>
<text x="333.80" y="273.50" font-size="4.1" text-anchor="start" font-weight="bold" fill="#222" >0</text>
<text x="361.30" y="273.50" font-size="4.1" text-anchor="end" font-weight="bold" fill="#111" >75.8</text>
<rect x="368.80" y="246.30" width="28.20" height="27.80" fill="#fff" stroke="#c8c8c8" stroke-width="0.55"/>
<path d="M384.31 246.30V274.10M368.80 265.76H397.00" stroke="#dedede" stroke-width="0.5"/>
<path d="M365.60 248.00h2.2M366.00 254.64h1.6M366.00 261.31h1.6M366.00 267.98h1.6M372.18 275.80h1.1M375.57 275.80h1.1M380.64 275.80h1.1M382.34 275.80h1.1M388.54 275.80h1.1M390.23 275.80h1.1M394.74 275.80h1.1" stroke="#8a8a8a" stroke-width="0.5"/>
<ellipse cx="389.39" cy="262.84" rx="2.20" ry="6.53" fill="#000" fill-opacity="0.72" filter="url(#bl)"/>
<ellipse cx="389.39" cy="261.59" rx="0.50" ry="3.61" fill="#fff" fill-opacity="0.36" filter="url(#bl)"/>
<ellipse cx="389.39" cy="265.45" rx="1.30" ry="3.64" fill="#000" fill-opacity="0.396" filter="url(#bl)"/>
<ellipse cx="388.12" cy="270.07" rx="2.60" ry="2.36" fill="#000" fill-opacity="0.97" filter="url(#bl)"/>
<text x="369.40" y="249.80" font-size="4.1" text-anchor="start" font-weight="bold" fill="#222" >0</text>
<text x="396.90" y="249.80" font-size="4.1" text-anchor="end" font-weight="bold" fill="#111" >21.1</text>
<text x="369.40" y="273.50" font-size="4.1" text-anchor="start" font-weight="bold" fill="#222" >0</text>
<text x="396.90" y="273.50" font-size="4.1" text-anchor="end" font-weight="bold" fill="#111" >78.9</text>
<rect x="405.20" y="246.30" width="28.20" height="27.80" fill="#fff" stroke="#c8c8c8" stroke-width="0.55"/>
<path d="M420.71 246.30V274.10M405.20 265.76H433.40" stroke="#dedede" stroke-width="0.5"/>
<path d="M402.00 248.00h2.2M402.40 254.64h1.6M402.40 261.31h1.6M402.40 267.98h1.6M408.58 275.80h1.1M411.97 275.80h1.1M417.04 275.80h1.1M418.74 275.80h1.1M424.94 275.80h1.1M426.63 275.80h1.1M431.14 275.80h1.1" stroke="#8a8a8a" stroke-width="0.5"/>
<ellipse cx="424.66" cy="263.40" rx="2.20" ry="5.98" fill="#000" fill-opacity="0.25" filter="url(#bl)"/>
<ellipse cx="424.66" cy="262.15" rx="0.50" ry="3.06" fill="#fff" fill-opacity="0.125" filter="url(#bl)"/>
<ellipse cx="424.66" cy="265.76" rx="1.30" ry="3.34" fill="#000" fill-opacity="0.1375" filter="url(#bl)"/>
<ellipse cx="423.39" cy="270.21" rx="3.00" ry="2.50" fill="#000" fill-opacity="0.97" filter="url(#bl)"/>
<text x="405.80" y="249.80" font-size="4.1" text-anchor="start" font-weight="bold" fill="#222" >0</text>
<text x="433.30" y="249.80" font-size="4.1" text-anchor="end" font-weight="bold" fill="#111" >15.4</text>
<text x="405.80" y="273.50" font-size="4.1" text-anchor="start" font-weight="bold" fill="#222" >0</text>
<text x="433.30" y="273.50" font-size="4.1" text-anchor="end" font-weight="bold" fill="#111" >84.6</text>
<rect x="441.20" y="246.30" width="28.20" height="27.80" fill="#fff" stroke="#c8c8c8" stroke-width="0.55"/>
<path d="M456.71 246.30V274.10M441.20 265.76H469.40" stroke="#dedede" stroke-width="0.5"/>
<path d="M438.00 248.00h2.2M438.40 254.64h1.6M438.40 261.31h1.6M438.40 267.98h1.6M444.58 275.80h1.1M447.97 275.80h1.1M453.04 275.80h1.1M454.74 275.80h1.1M460.94 275.80h1.1M462.63 275.80h1.1M467.14 275.80h1.1" stroke="#8a8a8a" stroke-width="0.5"/>
<ellipse cx="459.81" cy="263.68" rx="2.20" ry="5.70" fill="#000" fill-opacity="0.22" filter="url(#bl)"/>
<ellipse cx="459.81" cy="262.42" rx="0.50" ry="2.78" fill="#fff" fill-opacity="0.11" filter="url(#bl)"/>
<ellipse cx="459.81" cy="265.91" rx="1.30" ry="3.18" fill="#000" fill-opacity="0.12100000000000001" filter="url(#bl)"/>
<ellipse cx="458.54" cy="270.21" rx="3.00" ry="2.50" fill="#000" fill-opacity="0.97" filter="url(#bl)"/>
<text x="441.80" y="249.80" font-size="4.1" text-anchor="start" font-weight="bold" fill="#222" >0</text>
<text x="469.30" y="249.80" font-size="4.1" text-anchor="end" font-weight="bold" fill="#111" >11.8</text>
<text x="441.80" y="273.50" font-size="4.1" text-anchor="start" font-weight="bold" fill="#222" >0</text>
<text x="469.30" y="273.50" font-size="4.1" text-anchor="end" font-weight="bold" fill="#111" >88.2</text>
<path d="M40.60 363.00V353.70H46.95M52.25 353.70H58.60V400.00" stroke="#707070" stroke-width="0.8" fill="none"/>
<polygon points="49.60,351.10 50.09,352.42 51.50,352.48 50.40,353.36 50.78,354.72 49.60,353.94 48.42,354.72 48.80,353.36 47.70,352.48 49.11,352.42" fill="#1a1a1a"/>
<path d="M131.00 379.50V370.50H135.10M144.90 370.50H149.00V394.50" stroke="#707070" stroke-width="0.8" fill="none"/>
<polygon points="137.75,367.90 138.24,369.22 139.65,369.28 138.55,370.16 138.93,371.52 137.75,370.74 136.57,371.52 136.95,370.16 135.85,369.28 137.26,369.22" fill="#1a1a1a"/>
<polygon points="142.25,367.90 142.74,369.22 144.15,369.28 143.05,370.16 143.43,371.52 142.25,370.74 141.07,371.52 141.45,370.16 140.35,369.28 141.76,369.22" fill="#1a1a1a"/>
<path d="M39.70 364.31V363.74M37.59 363.74H41.81" stroke="#000" stroke-width="1.2" fill="none"/>
<rect x="36.60" y="364.31" width="6.20" height="37.99" fill="#ffffff" stroke="#000" stroke-width="0.95"/>
<path d="M45.90 360.59V359.77M43.79 359.77H48.01" stroke="#000" stroke-width="1.2" fill="none"/>
<rect x="42.80" y="360.59" width="6.20" height="41.71" fill="#e0e0e0" stroke="#000" stroke-width="0.95"/>
<path d="M52.10 400.19V399.71M49.99 399.71H54.21" stroke="#000" stroke-width="1.2" fill="none"/>
<rect x="49.00" y="400.19" width="6.20" height="2.11" fill="#787878" stroke="#000" stroke-width="0.95"/>
<path d="M58.30 401.33V401.00M56.19 401.00H60.41" stroke="#000" stroke-width="1.2" fill="none"/>
<rect x="55.20" y="401.33" width="6.20" height="0.97" fill="#000000" stroke="#000" stroke-width="0.95"/>
<path d="M49.00 402.30v2.2" stroke="#000" stroke-width="0.9"/>
<path d="M70.50 385.78V385.13M68.39 385.13H72.61" stroke="#000" stroke-width="1.2" fill="none"/>
<rect x="67.40" y="385.78" width="6.20" height="16.52" fill="#ffffff" stroke="#000" stroke-width="0.95"/>
<path d="M76.70 385.05V381.56M74.59 381.56H78.81" stroke="#000" stroke-width="1.2" fill="none"/>
<rect x="73.60" y="385.05" width="6.20" height="17.25" fill="#e0e0e0" stroke="#000" stroke-width="0.95"/>
<path d="M82.90 381.24V379.78M80.79 379.78H85.01" stroke="#000" stroke-width="1.2" fill="none"/>
<rect x="79.80" y="381.24" width="6.20" height="21.06" fill="#787878" stroke="#000" stroke-width="0.95"/>
<path d="M89.10 389.18V387.40M86.99 387.40H91.21" stroke="#000" stroke-width="1.2" fill="none"/>
<rect x="86.00" y="389.18" width="6.20" height="13.12" fill="#000000" stroke="#000" stroke-width="0.95"/>
<path d="M79.80 402.30v2.2" stroke="#000" stroke-width="0.9"/>
<path d="M100.10 369.58V368.44M97.99 368.44H102.21" stroke="#000" stroke-width="1.2" fill="none"/>
<rect x="97.00" y="369.58" width="6.20" height="32.72" fill="#ffffff" stroke="#000" stroke-width="0.95"/>
<path d="M106.30 359.86V356.45M104.19 356.45H108.41" stroke="#000" stroke-width="1.2" fill="none"/>
<rect x="103.20" y="359.86" width="6.20" height="42.44" fill="#e0e0e0" stroke="#000" stroke-width="0.95"/>
<path d="M112.50 344.38V340.90M110.39 340.90H114.61" stroke="#000" stroke-width="1.2" fill="none"/>
<rect x="109.40" y="344.38" width="6.20" height="57.92" fill="#787878" stroke="#000" stroke-width="0.95"/>
<path d="M118.70 361.64V356.62M116.59 356.62H120.81" stroke="#000" stroke-width="1.2" fill="none"/>
<rect x="115.60" y="361.64" width="6.20" height="40.66" fill="#000000" stroke="#000" stroke-width="0.95"/>
<path d="M109.40 402.30v2.2" stroke="#000" stroke-width="0.9"/>
<path d="M130.80 380.59V379.94M128.69 379.94H132.91" stroke="#000" stroke-width="1.2" fill="none"/>
<rect x="127.70" y="380.59" width="6.20" height="21.71" fill="#ffffff" stroke="#000" stroke-width="0.95"/>
<path d="M137.00 377.11V376.54M134.89 376.54H139.11" stroke="#000" stroke-width="1.2" fill="none"/>
<rect x="133.90" y="377.11" width="6.20" height="25.19" fill="#e0e0e0" stroke="#000" stroke-width="0.95"/>
<path d="M143.20 394.69V394.04M141.09 394.04H145.31" stroke="#000" stroke-width="1.2" fill="none"/>
<rect x="140.10" y="394.69" width="6.20" height="7.61" fill="#787878" stroke="#000" stroke-width="0.95"/>
<path d="M149.40 396.06V395.50M147.29 395.50H151.51" stroke="#000" stroke-width="1.2" fill="none"/>
<rect x="146.30" y="396.06" width="6.20" height="6.24" fill="#000000" stroke="#000" stroke-width="0.95"/>
<path d="M140.10 402.30v2.2" stroke="#000" stroke-width="0.9"/>
<path d="M33.60 320.90V402.30H155.20" stroke="#000" stroke-width="1.0" fill="none"/>
<path d="M31.40 402.30H33.60" stroke="#000" stroke-width="1.0"/>
<text x="30.40" y="404.17" font-size="5.2" text-anchor="end" font-weight="bold" fill="#222" >0</text>
<path d="M31.40 386.10H33.60" stroke="#000" stroke-width="1.0"/>
<text x="30.40" y="387.97" font-size="5.2" text-anchor="end" font-weight="bold" fill="#222" >20</text>
<path d="M31.40 369.90H33.60" stroke="#000" stroke-width="1.0"/>
<text x="30.40" y="371.77" font-size="5.2" text-anchor="end" font-weight="bold" fill="#222" >40</text>
<path d="M31.40 353.70H33.60" stroke="#000" stroke-width="1.0"/>
<text x="30.40" y="355.57" font-size="5.2" text-anchor="end" font-weight="bold" fill="#222" >60</text>
<path d="M31.40 337.50H33.60" stroke="#000" stroke-width="1.0"/>
<text x="30.40" y="339.37" font-size="5.2" text-anchor="end" font-weight="bold" fill="#222" >80</text>
<path d="M31.40 321.30H33.60" stroke="#000" stroke-width="1.0"/>
<text x="30.40" y="323.17" font-size="5.2" text-anchor="end" font-weight="bold" fill="#222" >100</text>
<text x="86.20" y="307.80" font-size="8.5" text-anchor="middle" font-weight="normal" fill="#111" stroke="#111" stroke-width="0.22">Spleen</text>
<text transform="translate(17.20 363.00) rotate(-90)" font-size="6.6" text-anchor="middle" font-weight="bold" fill="#222">Percent receptor expression</text>
<text x="48.80" y="411.30" font-size="6.4" text-anchor="middle" font-weight="bold" fill="#111" stroke="#111" stroke-width="0.12">CXCR3</text>
<text x="79.20" y="411.30" font-size="6.4" text-anchor="middle" font-weight="bold" fill="#111" stroke="#111" stroke-width="0.12">CCR6</text>
<text x="109.60" y="411.30" font-size="6.4" text-anchor="middle" font-weight="bold" fill="#111" stroke="#111" stroke-width="0.12">CCR4</text>
<text x="140.00" y="411.30" font-size="6.4" text-anchor="middle" font-weight="bold" fill="#111" letter-spacing="0.45"><tspan font-family="'Liberation Serif', serif" font-size="7.7" font-weight="normal">&#945;</tspan>4<tspan font-family="'Liberation Serif', serif" font-size="7.7" font-weight="normal">&#946;</tspan>7</text>
<path d="M185.60 362.90V336.20H192.45M197.75 336.20H204.60V369.80" stroke="#707070" stroke-width="0.8" fill="none"/>
<polygon points="195.10,333.60 195.59,334.92 197.00,334.98 195.90,335.86 196.28,337.22 195.10,336.44 193.92,337.22 194.30,335.86 193.20,334.98 194.61,334.92" fill="#1a1a1a"/>
<path d="M227.40 343.80V331.60H227.50M237.30 331.60H237.40V388.00" stroke="#707070" stroke-width="0.8" fill="none"/>
<polygon points="230.15,329.00 230.64,330.32 232.05,330.38 230.95,331.26 231.33,332.62 230.15,331.84 228.97,332.62 229.35,331.26 228.25,330.38 229.66,330.32" fill="#1a1a1a"/>
<polygon points="234.65,329.00 235.14,330.32 236.55,330.38 235.45,331.26 235.83,332.62 234.65,331.84 233.47,332.62 233.85,331.26 232.75,330.38 234.16,330.32" fill="#1a1a1a"/>
<path d="M247.50 386.00V323.50H254.60M259.90 323.50H267.00V327.60" stroke="#707070" stroke-width="0.8" fill="none"/>
<polygon points="257.25,320.90 257.74,322.22 259.15,322.28 258.05,323.16 258.43,324.52 257.25,323.74 256.07,324.52 256.45,323.16 255.35,322.28 256.76,322.22" fill="#1a1a1a"/>
<path d="M278.20 336.90V328.30H282.60M292.40 328.30H296.80V378.50" stroke="#707070" stroke-width="0.8" fill="none"/>
<polygon points="285.25,325.70 285.74,327.02 287.15,327.08 286.05,327.96 286.43,329.32 285.25,328.54 284.07,329.32 284.45,327.96 283.35,327.08 284.76,327.02" fill="#1a1a1a"/>
<polygon points="289.75,325.70 290.24,327.02 291.65,327.08 290.55,327.96 290.93,329.32 289.75,328.54 288.57,329.32 288.95,327.96 287.85,327.08 289.26,327.02" fill="#1a1a1a"/>
<path d="M185.32 364.69V357.83M183.20 357.83H187.45" stroke="#000" stroke-width="1.2" fill="none"/>
<rect x="182.20" y="364.69" width="6.25" height="37.31" fill="#ffffff" stroke="#000" stroke-width="0.95"/>
<path d="M191.57 351.80V344.94M189.45 344.94H193.70" stroke="#000" stroke-width="1.2" fill="none"/>
<rect x="188.45" y="351.80" width="6.25" height="50.20" fill="#e0e0e0" stroke="#000" stroke-width="0.95"/>
<path d="M197.82 361.67V359.48M195.70 359.48H199.95" stroke="#000" stroke-width="1.2" fill="none"/>
<rect x="194.70" y="361.67" width="6.25" height="40.33" fill="#787878" stroke="#000" stroke-width="0.95"/>
<path d="M204.07 371.55V365.24M201.95 365.24H206.20" stroke="#000" stroke-width="1.2" fill="none"/>
<rect x="200.95" y="371.55" width="6.25" height="30.45" fill="#000000" stroke="#000" stroke-width="0.95"/>
<path d="M194.70 402.00v2.2" stroke="#000" stroke-width="0.9"/>
<path d="M216.43 393.22V390.75M214.30 390.75H218.55" stroke="#000" stroke-width="1.2" fill="none"/>
<rect x="213.30" y="393.22" width="6.25" height="8.78" fill="#ffffff" stroke="#000" stroke-width="0.95"/>
<path d="M222.68 395.69V394.87M220.55 394.87H224.80" stroke="#000" stroke-width="1.2" fill="none"/>
<rect x="219.55" y="395.69" width="6.25" height="6.31" fill="#e0e0e0" stroke="#000" stroke-width="0.95"/>
<path d="M228.93 345.49V341.92M226.80 341.92H231.05" stroke="#000" stroke-width="1.2" fill="none"/>
<rect x="225.80" y="345.49" width="6.25" height="56.51" fill="#787878" stroke="#000" stroke-width="0.95"/>
<path d="M235.18 389.93V388.28M233.05 388.28H237.30" stroke="#000" stroke-width="1.2" fill="none"/>
<rect x="232.05" y="389.93" width="6.25" height="12.07" fill="#000000" stroke="#000" stroke-width="0.95"/>
<path d="M225.80 402.00v2.2" stroke="#000" stroke-width="0.9"/>
<path d="M247.43 387.73V386.91M245.30 386.91H249.55" stroke="#000" stroke-width="1.2" fill="none"/>
<rect x="244.30" y="387.73" width="6.25" height="14.27" fill="#ffffff" stroke="#000" stroke-width="0.95"/>
<path d="M253.68 385.27V383.07M251.55 383.07H255.80" stroke="#000" stroke-width="1.2" fill="none"/>
<rect x="250.55" y="385.27" width="6.25" height="16.73" fill="#e0e0e0" stroke="#000" stroke-width="0.95"/>
<path d="M259.93 339.18V330.67M257.80 330.67H262.05" stroke="#000" stroke-width="1.2" fill="none"/>
<rect x="256.80" y="339.18" width="6.25" height="62.82" fill="#787878" stroke="#000" stroke-width="0.95"/>
<path d="M266.18 340.27V327.66M264.05 327.66H268.30" stroke="#000" stroke-width="1.2" fill="none"/>
<rect x="263.05" y="340.27" width="6.25" height="61.73" fill="#000000" stroke="#000" stroke-width="0.95"/>
<path d="M256.80 402.00v2.2" stroke="#000" stroke-width="0.9"/>
<path d="M278.52 357.01V337.53M276.40 337.53H280.65" stroke="#000" stroke-width="1.2" fill="none"/>
<rect x="275.40" y="357.01" width="6.25" height="44.99" fill="#ffffff" stroke="#000" stroke-width="0.95"/>
<path d="M284.77 340.27V338.90M282.65 338.90H286.90" stroke="#000" stroke-width="1.2" fill="none"/>
<rect x="281.65" y="340.27" width="6.25" height="61.73" fill="#e0e0e0" stroke="#000" stroke-width="0.95"/>
<path d="M291.02 386.09V384.44M288.90 384.44H293.15" stroke="#000" stroke-width="1.2" fill="none"/>
<rect x="287.90" y="386.09" width="6.25" height="15.91" fill="#787878" stroke="#000" stroke-width="0.95"/>
<path d="M297.27 383.62V379.50M295.15 379.50H299.40" stroke="#000" stroke-width="1.2" fill="none"/>
<rect x="294.15" y="383.62" width="6.25" height="18.38" fill="#000000" stroke="#000" stroke-width="0.95"/>
<path d="M287.90 402.00v2.2" stroke="#000" stroke-width="0.9"/>
<path d="M179.50 319.30V402.00H301.80" stroke="#000" stroke-width="1.0" fill="none"/>
<path d="M177.30 402.00H179.50" stroke="#000" stroke-width="1.0"/>
<text x="176.30" y="404.09" font-size="5.8" text-anchor="end" font-weight="bold" fill="#222" >0</text>
<path d="M177.30 374.57H179.50" stroke="#000" stroke-width="1.0"/>
<text x="176.30" y="376.65" font-size="5.8" text-anchor="end" font-weight="bold" fill="#222" >10</text>
<path d="M177.30 347.13H179.50" stroke="#000" stroke-width="1.0"/>
<text x="176.30" y="349.22" font-size="5.8" text-anchor="end" font-weight="bold" fill="#222" >20</text>
<path d="M177.30 319.70H179.50" stroke="#000" stroke-width="1.0"/>
<text x="176.30" y="321.79" font-size="5.8" text-anchor="end" font-weight="bold" fill="#222" >30</text>
<text x="238.40" y="308.60" font-size="8.5" text-anchor="middle" font-weight="normal" fill="#111" stroke="#111" stroke-width="0.22">Liver</text>
<text transform="translate(165.60 361.00) rotate(-90)" font-size="6.9" text-anchor="middle" font-weight="bold" fill="#222">Percent receptor expression</text>
<text x="194.70" y="411.00" font-size="6.8" text-anchor="middle" font-weight="bold" fill="#111" stroke="#111" stroke-width="0.12">CXCR3</text>
<text x="225.80" y="411.00" font-size="6.8" text-anchor="middle" font-weight="bold" fill="#111" stroke="#111" stroke-width="0.12">CCR6</text>
<text x="256.80" y="411.00" font-size="6.8" text-anchor="middle" font-weight="bold" fill="#111" stroke="#111" stroke-width="0.12">CCR4</text>
<text x="287.90" y="411.00" font-size="6.8" text-anchor="middle" font-weight="bold" fill="#111" letter-spacing="0.45"><tspan font-family="'Liberation Serif', serif" font-size="8.2" font-weight="normal">&#945;</tspan>4<tspan font-family="'Liberation Serif', serif" font-size="8.2" font-weight="normal">&#946;</tspan>7</text>
<path d="M331.80 327.00V324.30H336.25M346.05 324.30H350.50V388.50" stroke="#707070" stroke-width="0.8" fill="none"/>
<polygon points="338.90,321.70 339.39,323.02 340.80,323.08 339.70,323.96 340.08,325.32 338.90,324.54 337.72,325.32 338.10,323.96 337.00,323.08 338.41,323.02" fill="#1a1a1a"/>
<polygon points="343.40,321.70 343.89,323.02 345.30,323.08 344.20,323.96 344.58,325.32 343.40,324.54 342.22,325.32 342.60,323.96 341.50,323.08 342.91,323.02" fill="#1a1a1a"/>
<path d="M373.00 363.30V351.80H372.50M383.50 351.80H383.00V389.90" stroke="#707070" stroke-width="0.8" fill="none"/>
<polygon points="374.60,349.50 375.02,350.62 376.22,350.67 375.28,351.42 375.60,352.58 374.60,351.91 373.60,352.58 373.92,351.42 372.98,350.67 374.18,350.62" fill="#1a1a1a"/>
<polygon points="378.00,349.50 378.42,350.62 379.62,350.67 378.68,351.42 379.00,352.58 378.00,351.91 377.00,352.58 377.32,351.42 376.38,350.67 377.58,350.62" fill="#1a1a1a"/>
<polygon points="381.40,349.50 381.82,350.62 383.02,350.67 382.08,351.42 382.40,352.58 381.40,351.91 380.40,352.58 380.72,351.42 379.78,350.67 380.98,350.62" fill="#1a1a1a"/>
<path d="M424.80 332.40V329.20H428.85M443.15 329.20H445.00V359.50" stroke="#707070" stroke-width="0.8" fill="none"/>
<polygon points="431.50,326.60 431.99,327.92 433.40,327.98 432.30,328.86 432.68,330.22 431.50,329.44 430.32,330.22 430.70,328.86 429.60,327.98 431.01,327.92" fill="#1a1a1a"/>
<polygon points="436.00,326.60 436.49,327.92 437.90,327.98 436.80,328.86 437.18,330.22 436.00,329.44 434.82,330.22 435.20,328.86 434.10,327.98 435.51,327.92" fill="#1a1a1a"/>
<polygon points="440.50,326.60 440.99,327.92 442.40,327.98 441.30,328.86 441.68,330.22 440.50,329.44 439.32,330.22 439.70,328.86 438.60,327.98 440.01,327.92" fill="#1a1a1a"/>
<path d="M331.43 331.38V327.17M329.30 327.17H333.55" stroke="#000" stroke-width="1.2" fill="none"/>
<rect x="328.30" y="331.38" width="6.25" height="70.92" fill="#ffffff" stroke="#000" stroke-width="0.95"/>
<path d="M337.68 348.76V347.63M335.55 347.63H339.80" stroke="#000" stroke-width="1.2" fill="none"/>
<rect x="334.55" y="348.76" width="6.25" height="53.54" fill="#e0e0e0" stroke="#000" stroke-width="0.95"/>
<path d="M343.93 386.60V384.36M341.80 384.36H346.05" stroke="#000" stroke-width="1.2" fill="none"/>
<rect x="340.80" y="386.60" width="6.25" height="15.70" fill="#787878" stroke="#000" stroke-width="0.95"/>
<path d="M350.18 389.69V388.56M348.05 388.56H352.30" stroke="#000" stroke-width="1.2" fill="none"/>
<rect x="347.05" y="389.69" width="6.25" height="12.62" fill="#000000" stroke="#000" stroke-width="0.95"/>
<path d="M340.80 402.30v2.2" stroke="#000" stroke-width="0.9"/>
<path d="M363.32 399.78V398.94M361.20 398.94H365.45" stroke="#000" stroke-width="1.2" fill="none"/>
<rect x="360.20" y="399.78" width="6.25" height="2.52" fill="#ffffff" stroke="#000" stroke-width="0.95"/>
<path d="M369.57 401.18V400.62M367.45 400.62H371.70" stroke="#000" stroke-width="1.2" fill="none"/>
<rect x="366.45" y="401.18" width="6.25" height="1.12" fill="#e0e0e0" stroke="#000" stroke-width="0.95"/>
<path d="M375.82 363.61V358.01M373.70 358.01H377.95" stroke="#000" stroke-width="1.2" fill="none"/>
<rect x="372.70" y="363.61" width="6.25" height="38.69" fill="#787878" stroke="#000" stroke-width="0.95"/>
<path d="M382.07 391.65V388.28M379.95 388.28H384.20" stroke="#000" stroke-width="1.2" fill="none"/>
<rect x="378.95" y="391.65" width="6.25" height="10.65" fill="#000000" stroke="#000" stroke-width="0.95"/>
<path d="M372.70 402.30v2.2" stroke="#000" stroke-width="0.9"/>
<path d="M393.93 397.25V396.41M391.80 396.41H396.05" stroke="#000" stroke-width="1.2" fill="none"/>
<rect x="390.80" y="397.25" width="6.25" height="5.05" fill="#ffffff" stroke="#000" stroke-width="0.95"/>
<path d="M400.18 390.81V389.97M398.05 389.97H402.30" stroke="#000" stroke-width="1.2" fill="none"/>
<rect x="397.05" y="390.81" width="6.25" height="11.49" fill="#e0e0e0" stroke="#000" stroke-width="0.95"/>
<path d="M406.43 378.19V377.35M404.30 377.35H408.55" stroke="#000" stroke-width="1.2" fill="none"/>
<rect x="403.30" y="378.19" width="6.25" height="24.11" fill="#787878" stroke="#000" stroke-width="0.95"/>
<path d="M412.68 377.63V376.79M410.55 376.79H414.80" stroke="#000" stroke-width="1.2" fill="none"/>
<rect x="409.55" y="377.63" width="6.25" height="24.67" fill="#000000" stroke="#000" stroke-width="0.95"/>
<path d="M403.30 402.30v2.2" stroke="#000" stroke-width="0.9"/>
<path d="M426.32 333.62V332.50M424.20 332.50H428.45" stroke="#000" stroke-width="1.2" fill="none"/>
<rect x="423.20" y="333.62" width="6.25" height="68.68" fill="#ffffff" stroke="#000" stroke-width="0.95"/>
<path d="M432.57 344.27V343.43M430.45 343.43H434.70" stroke="#000" stroke-width="1.2" fill="none"/>
<rect x="429.45" y="344.27" width="6.25" height="58.03" fill="#e0e0e0" stroke="#000" stroke-width="0.95"/>
<path d="M438.82 359.13V357.73M436.70 357.73H440.95" stroke="#000" stroke-width="1.2" fill="none"/>
<rect x="435.70" y="359.13" width="6.25" height="43.17" fill="#787878" stroke="#000" stroke-width="0.95"/>
<path d="M445.07 363.33V359.97M442.95 359.97H447.20" stroke="#000" stroke-width="1.2" fill="none"/>
<rect x="441.95" y="363.33" width="6.25" height="38.97" fill="#000000" stroke="#000" stroke-width="0.95"/>
<path d="M435.70 402.30v2.2" stroke="#000" stroke-width="0.9"/>
<path d="M325.40 317.80V402.30H450.00" stroke="#000" stroke-width="1.0" fill="none"/>
<path d="M323.20 402.30H325.40" stroke="#000" stroke-width="1.0"/>
<text x="322.20" y="404.39" font-size="5.8" text-anchor="end" font-weight="bold" fill="#222" >0</text>
<path d="M323.20 374.27H325.40" stroke="#000" stroke-width="1.0"/>
<text x="322.20" y="376.35" font-size="5.8" text-anchor="end" font-weight="bold" fill="#222" >10</text>
<path d="M323.20 346.23H325.40" stroke="#000" stroke-width="1.0"/>
<text x="322.20" y="348.32" font-size="5.8" text-anchor="end" font-weight="bold" fill="#222" >20</text>
<path d="M323.20 318.20H325.40" stroke="#000" stroke-width="1.0"/>
<text x="322.20" y="320.29" font-size="5.8" text-anchor="end" font-weight="bold" fill="#222" >30</text>
<text x="391.20" y="306.80" font-size="8.5" text-anchor="middle" font-weight="normal" fill="#111" stroke="#111" stroke-width="0.22">Lung</text>
<text transform="translate(312.00 360.30) rotate(-90)" font-size="6.9" text-anchor="middle" font-weight="bold" fill="#222">Percent receptor expression</text>
<text x="340.60" y="411.30" font-size="6.8" text-anchor="middle" font-weight="bold" fill="#111" stroke="#111" stroke-width="0.12">CXCR3</text>
<text x="372.60" y="411.30" font-size="6.8" text-anchor="middle" font-weight="bold" fill="#111" stroke="#111" stroke-width="0.12">CCR6</text>
<text x="403.40" y="411.30" font-size="6.8" text-anchor="middle" font-weight="bold" fill="#111" stroke="#111" stroke-width="0.12">CCR4</text>
<text x="435.60" y="411.30" font-size="6.8" text-anchor="middle" font-weight="bold" fill="#111" letter-spacing="0.45"><tspan font-family="'Liberation Serif', serif" font-size="8.2" font-weight="normal">&#945;</tspan>4<tspan font-family="'Liberation Serif', serif" font-size="8.2" font-weight="normal">&#946;</tspan>7</text>
<rect x="448.90" y="301.30" width="9.8" height="4.4" fill="#ffffff" stroke="#000" stroke-width="1.25"/>
<text x="462.00" y="306.60" font-size="8.6" text-anchor="start" font-weight="normal" fill="#111" stroke="#111" stroke-width="0.22">WT</text>
<rect x="448.90" y="311.80" width="9.8" height="4.4" fill="#e0e0e0" stroke="#000" stroke-width="1.25"/>
<text x="462.00" y="317.10" font-size="8.6" text-anchor="start" font-weight="normal" fill="#111" stroke="#111" stroke-width="0.22">ROR&#947;t<tspan font-size="4.3" dy="-3.0">-/-</tspan><tspan dy="3.0" font-size="4.3">&#8203;</tspan></text>
<rect x="448.90" y="322.00" width="9.8" height="4.4" fill="#787878" stroke="#000" stroke-width="1.25"/>
<text x="462.00" y="327.30" font-size="8.6" text-anchor="start" font-weight="normal" fill="#111" stroke="#111" stroke-width="0.22">T-bet<tspan font-size="4.3" dy="-3.0">-/-</tspan><tspan dy="3.0" font-size="4.3">&#8203;</tspan></text>
<rect x="448.90" y="331.20" width="9.8" height="7.6" fill="#000000" stroke="#000" stroke-width="1.25"/>
<text x="462.00" y="338.10" font-size="8.6" text-anchor="start" font-weight="normal" fill="#111" stroke="#111" stroke-width="0.22">ROR&#947;t<tspan font-size="4.3" dy="-3.0">-/-</tspan><tspan dy="3.0" font-size="4.3">&#8203;</tspan>/T-bet<tspan font-size="4.3" dy="-3.0">-/-</tspan><tspan dy="3.0" font-size="4.3">&#8203;</tspan></text>
</svg>
</body></html>
